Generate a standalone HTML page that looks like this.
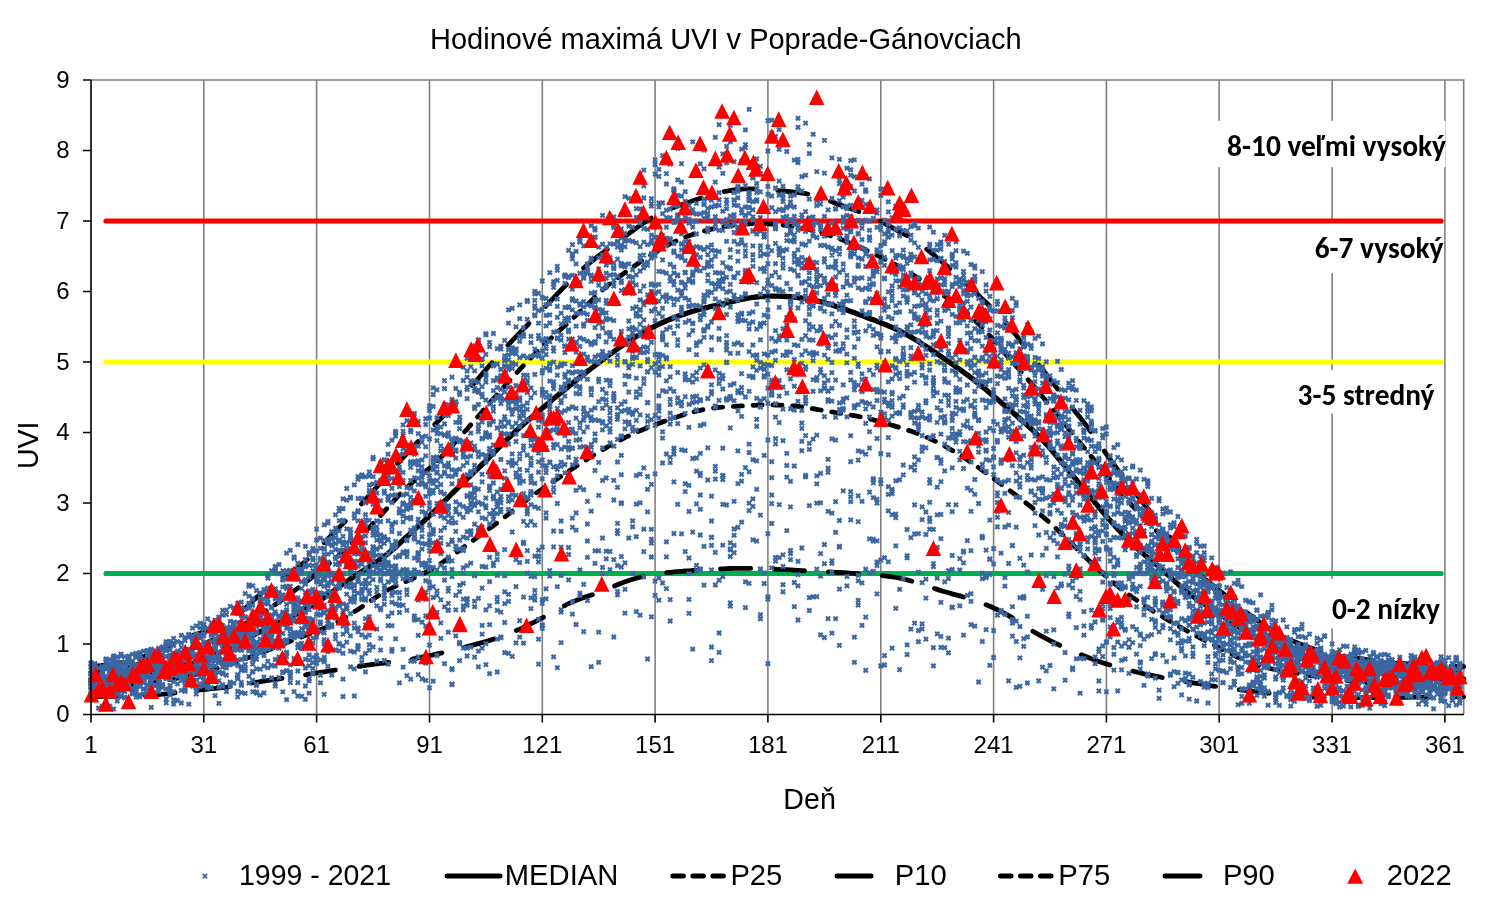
<!DOCTYPE html>
<html><head><meta charset="utf-8"><title>Hodinové maximá UVI v Poprade-Gánovciach</title>
<style>
html,body{margin:0;padding:0;background:#fff;}
svg{display:block;}
.a{font-family:"Liberation Sans",Arial,sans-serif;fill:#000;}
.c{font-family:Carlito,Calibri,"Liberation Sans",sans-serif;font-weight:bold;fill:#000;}
</style></head><body>
<svg width="1508" height="917" viewBox="0 0 1508 917">
<rect width="1508" height="917" fill="#fff"/>
<text class="a" x="725.8" y="49.2" font-size="29.0" text-anchor="middle">Hodinové maximá UVI v Poprade-Gánovciach</text>
<path d="M203.8 80V714M316.6 80V714M429.5 80V714M542.3 80V714M655.1 80V714M767.9 80V714M880.8 80V714M993.6 80V714M1106.4 80V714M1219.2 80V714M1332.1 80V714M1444.9 80V714M91 80H1463.7V714" stroke="#808080" stroke-width="1.6" fill="none"/>
<g fill="#fff"><rect x="1214" y="120.8" width="231.5" height="46.4"/><rect x="1305" y="219.2" width="139" height="53.8"/><rect x="1292" y="370" width="148" height="43.5"/><rect x="1322" y="579" width="120" height="49.4"/></g>
<g stroke-linecap="round" stroke-width="5.2" fill="none">
<path d="M106.0 221.0H1441.1" stroke="#ff0000"/>
<path d="M106.0 362.0H1441.1" stroke="#ffff00"/>
<path d="M106.0 573.5H1441.1" stroke="#00b050"/>
</g>
<g fill="none" stroke="#000" stroke-width="4.8" stroke-linecap="round" stroke-linejoin="round">
<path d="M91.0 696.9 94.8 696.8 98.5 696.7 102.3 696.6 106.0 696.5 109.8 696.4 113.6 696.3 117.3 696.2 121.1 696.1 124.8 696.0 128.6 695.9 132.4 695.8 136.1 695.7 139.9 695.5 143.7 695.4 147.4 695.2 151.2 695.0 154.9 694.8 158.7 694.5 162.5 694.2 166.2 693.9 170.0 693.5 173.7 693.1 177.5 692.7 181.3 692.2 185.0 691.8 188.8 691.3 192.5 690.8 196.3 690.4 200.1 689.9 203.8 689.5 207.6 689.1 211.3 688.7 215.1 688.3 218.9 687.9 222.6 687.5 226.4 687.1 230.2 686.6 233.9 686.0 237.7 685.5 241.4 684.9 245.2 684.2 249.0 683.6 252.7 682.9 256.5 682.3 260.2 681.7 264.0 681.1 267.8 680.5 271.5 679.9 275.3 679.4 279.0 678.8 282.8 678.3 286.6 677.7 290.3 677.1 294.1 676.6 297.8 676.0 301.6 675.4 305.4 674.8 309.1 674.2 312.9 673.6 316.6 673.0 320.4 672.4 324.2 671.8 327.9 671.2 331.7 670.6 335.5 670.0 339.2 669.4 343.0 668.8 346.7 668.2 350.5 667.6 354.3 667.1 358.0 666.5 361.8 666.0 365.5 665.4 369.3 664.9 373.1 664.4 376.8 663.9 380.6 663.4 384.3 663.0 388.1 662.5 391.9 662.1 395.6 661.6 399.4 661.1 403.1 660.6 406.9 660.0 410.7 659.4 414.4 658.7 418.2 658.0 422.0 657.2 425.7 656.4 429.5 655.6 433.2 654.8 437.0 653.9 440.8 653.1 444.5 652.3 448.3 651.4 452.0 650.5 455.8 649.6 459.6 648.6 463.3 647.6 467.1 646.6 470.8 645.6 474.6 644.6 478.4 643.6 482.1 642.6 485.9 641.5 489.6 640.4 493.4 639.2 497.2 638.0 500.9 636.7 504.7 635.3 508.5 633.8 512.2 632.3 516.0 630.7 519.7 629.1 523.5 627.3 527.3 625.6 531.0 623.7 534.8 621.8 538.5 619.9 542.3 617.9 546.1 615.9 549.8 613.8 553.6 611.7 557.3 609.6 561.1 607.5 564.9 605.5 568.6 603.6 572.4 601.9 576.1 600.4 579.9 599.0 583.7 597.6 587.4 596.4 591.2 595.1 595.0 593.8 598.7 592.5 602.5 591.0 606.2 589.5 610.0 587.9 613.8 586.3 617.5 584.7 621.3 583.2 625.0 581.8 628.8 580.5 632.6 579.3 636.3 578.2 640.1 577.2 643.8 576.3 647.6 575.4 651.4 574.7 655.1 574.1 658.9 573.6 662.6 573.1 666.4 572.7 670.2 572.3 673.9 571.9 677.7 571.6 681.5 571.3 685.2 571.0 689.0 570.8 692.7 570.5 696.5 570.3 700.3 570.0 704.0 569.8 707.8 569.6 711.5 569.4 715.3 569.1 719.1 568.9 722.8 568.8 726.6 568.6 730.3 568.5 734.1 568.4 737.9 568.3 741.6 568.3 745.4 568.3 749.1 568.4 752.9 568.4 756.7 568.5 760.4 568.6 764.2 568.7 767.9 568.9 771.7 569.0 775.5 569.2 779.2 569.4 783.0 569.5 786.8 569.7 790.5 569.9 794.3 570.1 798.0 570.3 801.8 570.6 805.6 570.8 809.3 571.0 813.1 571.2 816.8 571.4 820.6 571.6 824.4 571.7 828.1 571.9 831.9 572.1 835.6 572.3 839.4 572.5 843.2 572.7 846.9 572.9 850.7 573.2 854.4 573.4 858.2 573.6 862.0 573.9 865.7 574.2 869.5 574.5 873.3 574.8 877.0 575.1 880.8 575.5 884.5 575.9 888.3 576.4 892.1 576.9 895.8 577.5 899.6 578.2 903.3 579.0 907.1 579.9 910.9 581.0 914.6 582.1 918.4 583.3 922.1 584.5 925.9 585.8 929.7 587.0 933.4 588.2 937.2 589.4 940.9 590.6 944.7 591.7 948.5 592.8 952.2 593.9 956.0 594.9 959.8 595.9 963.5 597.0 967.3 598.1 971.0 599.3 974.8 600.5 978.6 601.8 982.3 603.2 986.1 604.7 989.8 606.3 993.6 608.0 997.4 609.7 1001.1 611.5 1004.9 613.5 1008.6 615.6 1012.4 617.9 1016.2 620.3 1019.9 622.9 1023.7 625.4 1027.4 627.9 1031.2 630.2 1035.0 632.5 1038.7 634.6 1042.5 636.7 1046.3 638.7 1050.0 640.6 1053.8 642.5 1057.5 644.3 1061.3 646.0 1065.1 647.8 1068.8 649.4 1072.6 651.1 1076.3 652.7 1080.1 654.2 1083.9 655.8 1087.6 657.3 1091.4 658.8 1095.1 660.1 1098.9 661.4 1102.7 662.7 1106.4 663.9 1110.2 665.1 1113.9 666.2 1117.7 667.2 1121.5 668.2 1125.2 669.2 1129.0 670.2 1132.7 671.1 1136.5 672.0 1140.3 672.9 1144.0 673.8 1147.8 674.6 1151.6 675.4 1155.3 676.2 1159.1 676.9 1162.8 677.6 1166.6 678.3 1170.4 679.0 1174.1 679.7 1177.9 680.3 1181.6 681.0 1185.4 681.6 1189.2 682.2 1192.9 682.8 1196.7 683.4 1200.4 684.0 1204.2 684.6 1208.0 685.2 1211.7 685.8 1215.5 686.4 1219.2 687.0 1223.0 687.6 1226.8 688.1 1230.5 688.6 1234.3 689.1 1238.1 689.6 1241.8 690.0 1245.6 690.4 1249.3 690.9 1253.1 691.3 1256.9 691.7 1260.6 692.2 1264.4 692.7 1268.1 693.1 1271.9 693.6 1275.7 694.0 1279.4 694.5 1283.2 694.9 1286.9 695.3 1290.7 695.6 1294.5 696.0 1298.2 696.3 1302.0 696.5 1305.7 696.7 1309.5 696.9 1313.3 697.1 1317.0 697.2 1320.8 697.4 1324.6 697.5 1328.3 697.5 1332.1 697.6 1335.8 697.6 1339.6 697.7 1343.4 697.7 1347.1 697.7 1350.9 697.7 1354.6 697.7 1358.4 697.6 1362.2 697.6 1365.9 697.6 1369.7 697.6 1373.4 697.5 1377.2 697.5 1381.0 697.5 1384.7 697.4 1388.5 697.4 1392.2 697.4 1396.0 697.3 1399.8 697.3 1403.5 697.3 1407.3 697.3 1411.1 697.2 1414.8 697.2 1418.6 697.2 1422.3 697.1 1426.1 697.1 1429.9 697.1 1433.6 697.0 1437.4 697.0 1441.1 697.0 1444.9 697.0 1448.7 696.9 1452.4 696.9 1456.2 696.9 1459.9 696.9 1463.7 696.9" stroke-dasharray="30.2 23.8"/>
<path d="M91.0 687.7 94.8 687.5 98.5 687.4 102.3 687.1 106.0 686.9 109.8 686.7 113.6 686.4 117.3 686.1 121.1 685.8 124.8 685.4 128.6 685.1 132.4 684.7 136.1 684.2 139.9 683.8 143.7 683.3 147.4 682.9 151.2 682.4 154.9 681.8 158.7 681.3 162.5 680.7 166.2 680.1 170.0 679.4 173.7 678.8 177.5 678.1 181.3 677.3 185.0 676.6 188.8 675.8 192.5 674.9 196.3 674.1 200.1 673.1 203.8 672.2 207.6 671.1 211.3 670.1 215.1 669.0 218.9 667.8 222.6 666.6 226.4 665.4 230.2 664.2 233.9 662.9 237.7 661.6 241.4 660.2 245.2 658.8 249.0 657.4 252.7 656.0 256.5 654.6 260.2 653.1 264.0 651.6 267.8 650.2 271.5 648.7 275.3 647.2 279.0 645.7 282.8 644.2 286.6 642.7 290.3 641.2 294.1 639.7 297.8 638.3 301.6 636.8 305.4 635.4 309.1 634.0 312.9 632.6 316.6 631.2 320.4 629.7 324.2 628.1 327.9 626.5 331.7 624.8 335.5 623.0 339.2 621.0 343.0 618.9 346.7 616.7 350.5 614.4 354.3 611.9 358.0 609.4 361.8 606.9 365.5 604.4 369.3 601.8 373.1 599.3 376.8 596.8 380.6 594.4 384.3 592.2 388.1 590.0 391.9 588.0 395.6 586.1 399.4 584.3 403.1 582.6 406.9 581.0 410.7 579.4 414.4 577.7 418.2 576.0 422.0 574.2 425.7 572.3 429.5 570.3 433.2 568.2 437.0 565.9 440.8 563.5 444.5 561.0 448.3 558.4 452.0 555.7 455.8 553.0 459.6 550.3 463.3 547.5 467.1 544.8 470.8 542.1 474.6 539.4 478.4 536.6 482.1 533.9 485.9 531.2 489.6 528.4 493.4 525.7 497.2 522.8 500.9 520.0 504.7 517.1 508.5 514.1 512.2 511.2 516.0 508.2 519.7 505.3 523.5 502.4 527.3 499.5 531.0 496.8 534.8 494.1 538.5 491.4 542.3 488.9 546.1 486.3 549.8 483.8 553.6 481.3 557.3 478.8 561.1 476.3 564.9 473.7 568.6 471.2 572.4 468.7 576.1 466.2 579.9 463.8 583.7 461.4 587.4 459.0 591.2 456.6 595.0 454.3 598.7 452.0 602.5 449.8 606.2 447.6 610.0 445.5 613.8 443.4 617.5 441.4 621.3 439.5 625.0 437.6 628.8 435.8 632.6 434.0 636.3 432.4 640.1 430.7 643.8 429.2 647.6 427.6 651.4 426.2 655.1 424.7 658.9 423.3 662.6 421.9 666.4 420.6 670.2 419.2 673.9 417.9 677.7 416.7 681.5 415.4 685.2 414.3 689.0 413.2 692.7 412.1 696.5 411.2 700.3 410.3 704.0 409.5 707.8 408.8 711.5 408.3 715.3 407.8 719.1 407.4 722.8 407.1 726.6 406.8 730.3 406.5 734.1 406.3 737.9 406.1 741.6 405.9 745.4 405.7 749.1 405.5 752.9 405.3 756.7 405.2 760.4 405.0 764.2 405.0 767.9 404.9 771.7 404.9 775.5 405.0 779.2 405.1 783.0 405.2 786.8 405.4 790.5 405.7 794.3 406.0 798.0 406.4 801.8 406.9 805.6 407.5 809.3 408.1 813.1 408.7 816.8 409.4 820.6 410.0 824.4 410.7 828.1 411.3 831.9 411.9 835.6 412.5 839.4 413.1 843.2 413.7 846.9 414.3 850.7 415.0 854.4 415.6 858.2 416.4 862.0 417.2 865.7 418.1 869.5 419.0 873.3 419.9 877.0 420.9 880.8 422.0 884.5 423.0 888.3 424.1 892.1 425.2 895.8 426.4 899.6 427.5 903.3 428.7 907.1 429.9 910.9 431.1 914.6 432.4 918.4 433.8 922.1 435.3 925.9 436.9 929.7 438.5 933.4 440.3 937.2 442.2 940.9 444.1 944.7 446.1 948.5 448.2 952.2 450.4 956.0 452.7 959.8 455.0 963.5 457.4 967.3 459.8 971.0 462.4 974.8 464.9 978.6 467.6 982.3 470.3 986.1 473.0 989.8 475.8 993.6 478.6 997.4 481.4 1001.1 484.2 1004.9 486.9 1008.6 489.7 1012.4 492.5 1016.2 495.4 1019.9 498.2 1023.7 501.1 1027.4 504.1 1031.2 507.0 1035.0 510.1 1038.7 513.2 1042.5 516.4 1046.3 519.6 1050.0 523.0 1053.8 526.4 1057.5 529.9 1061.3 533.5 1065.1 537.1 1068.8 540.8 1072.6 544.5 1076.3 548.2 1080.1 551.9 1083.9 555.6 1087.6 559.3 1091.4 562.9 1095.1 566.4 1098.9 570.0 1102.7 573.4 1106.4 576.7 1110.2 580.0 1113.9 583.2 1117.7 586.2 1121.5 589.2 1125.2 592.0 1129.0 594.8 1132.7 597.5 1136.5 600.1 1140.3 602.6 1144.0 605.1 1147.8 607.6 1151.6 610.0 1155.3 612.4 1159.1 614.7 1162.8 617.0 1166.6 619.3 1170.4 621.5 1174.1 623.7 1177.9 625.8 1181.6 627.9 1185.4 630.0 1189.2 632.1 1192.9 634.1 1196.7 636.1 1200.4 638.1 1204.2 640.1 1208.0 642.0 1211.7 643.9 1215.5 645.9 1219.2 647.8 1223.0 649.7 1226.8 651.6 1230.5 653.6 1234.3 655.5 1238.1 657.3 1241.8 659.1 1245.6 660.8 1249.3 662.3 1253.1 663.7 1256.9 664.9 1260.6 666.1 1264.4 667.1 1268.1 668.0 1271.9 668.9 1275.7 669.6 1279.4 670.4 1283.2 671.0 1286.9 671.7 1290.7 672.3 1294.5 672.9 1298.2 673.5 1302.0 674.1 1305.7 674.7 1309.5 675.3 1313.3 675.9 1317.0 676.5 1320.8 677.0 1324.6 677.6 1328.3 678.1 1332.1 678.7 1335.8 679.2 1339.6 679.7 1343.4 680.2 1347.1 680.6 1350.9 681.1 1354.6 681.5 1358.4 682.0 1362.2 682.4 1365.9 682.8 1369.7 683.1 1373.4 683.5 1377.2 683.8 1381.0 684.1 1384.7 684.5 1388.5 684.7 1392.2 685.0 1396.0 685.3 1399.8 685.5 1403.5 685.7 1407.3 685.9 1411.1 686.1 1414.8 686.3 1418.6 686.5 1422.3 686.7 1426.1 686.8 1429.9 686.9 1433.6 687.1 1437.4 687.2 1441.1 687.3 1444.9 687.4 1448.7 687.5 1452.4 687.5 1456.2 687.6 1459.9 687.7 1463.7 687.7" stroke-dasharray="9.2 10.6"/>
<path d="M91.0 679.2 94.8 679.1 98.5 678.8 102.3 678.6 106.0 678.3 109.8 678.0 113.6 677.7 117.3 677.4 121.1 677.0 124.8 676.6 128.6 676.1 132.4 675.7 136.1 675.2 139.9 674.7 143.7 674.1 147.4 673.5 151.2 672.9 154.9 672.2 158.7 671.6 162.5 670.8 166.2 670.1 170.0 669.3 173.7 668.5 177.5 667.6 181.3 666.6 185.0 665.6 188.8 664.5 192.5 663.4 196.3 662.1 200.1 660.8 203.8 659.4 207.6 657.9 211.3 656.3 215.1 654.6 218.9 652.8 222.6 651.0 226.4 649.1 230.2 647.2 233.9 645.3 237.7 643.3 241.4 641.4 245.2 639.4 249.0 637.4 252.7 635.5 256.5 633.6 260.2 631.7 264.0 629.8 267.8 628.0 271.5 626.2 275.3 624.4 279.0 622.6 282.8 620.8 286.6 618.9 290.3 617.1 294.1 615.1 297.8 613.2 301.6 611.2 305.4 609.1 309.1 607.0 312.9 604.8 316.6 602.4 320.4 600.0 324.2 597.5 327.9 595.0 331.7 592.3 335.5 589.6 339.2 586.9 343.0 584.2 346.7 581.6 350.5 579.0 354.3 576.4 358.0 574.0 361.8 571.6 365.5 569.2 369.3 566.8 373.1 564.3 376.8 561.8 380.6 559.2 384.3 556.4 388.1 553.5 391.9 550.3 395.6 547.0 399.4 543.6 403.1 540.0 406.9 536.5 410.7 533.1 414.4 529.6 418.2 526.3 422.0 522.9 425.7 519.4 429.5 515.9 433.2 512.3 437.0 508.6 440.8 504.9 444.5 501.1 448.3 497.3 452.0 493.5 455.8 489.8 459.6 486.2 463.3 482.5 467.1 478.9 470.8 475.3 474.6 471.7 478.4 468.1 482.1 464.5 485.9 460.8 489.6 457.0 493.4 453.2 497.2 449.3 500.9 445.5 504.7 441.7 508.5 438.0 512.2 434.5 516.0 431.0 519.7 427.6 523.5 424.2 527.3 420.9 531.0 417.7 534.8 414.5 538.5 411.3 542.3 408.2 546.1 405.1 549.8 402.0 553.6 398.8 557.3 395.7 561.1 392.6 564.9 389.6 568.6 386.5 572.4 383.4 576.1 380.4 579.9 377.4 583.7 374.4 587.4 371.4 591.2 368.5 595.0 365.6 598.7 362.7 602.5 359.8 606.2 357.0 610.0 354.3 613.8 351.6 617.5 348.9 621.3 346.3 625.0 343.7 628.8 341.2 632.6 338.8 636.3 336.5 640.1 334.2 643.8 332.0 647.6 329.9 651.4 327.9 655.1 326.0 658.9 324.2 662.6 322.5 666.4 320.8 670.2 319.2 673.9 317.7 677.7 316.3 681.5 315.0 685.2 313.7 689.0 312.5 692.7 311.3 696.5 310.2 700.3 309.2 704.0 308.2 707.8 307.3 711.5 306.3 715.3 305.5 719.1 304.6 722.8 303.7 726.6 302.8 730.3 301.9 734.1 301.1 737.9 300.2 741.6 299.4 745.4 298.6 749.1 298.0 752.9 297.4 756.7 297.0 760.4 296.7 764.2 296.5 767.9 296.3 771.7 296.2 775.5 296.2 779.2 296.2 783.0 296.3 786.8 296.5 790.5 296.7 794.3 297.1 798.0 297.5 801.8 298.0 805.6 298.6 809.3 299.3 813.1 300.1 816.8 300.9 820.6 301.8 824.4 302.8 828.1 303.9 831.9 305.0 835.6 306.2 839.4 307.5 843.2 308.8 846.9 310.1 850.7 311.4 854.4 312.8 858.2 314.2 862.0 315.6 865.7 317.0 869.5 318.4 873.3 319.8 877.0 321.2 880.8 322.7 884.5 324.2 888.3 325.8 892.1 327.4 895.8 329.1 899.6 330.9 903.3 332.9 907.1 334.9 910.9 337.0 914.6 339.2 918.4 341.5 922.1 343.9 925.9 346.3 929.7 348.8 933.4 351.3 937.2 353.8 940.9 356.4 944.7 359.0 948.5 361.5 952.2 364.1 956.0 366.8 959.8 369.4 963.5 372.1 967.3 374.9 971.0 377.7 974.8 380.6 978.6 383.6 982.3 386.6 986.1 389.7 989.8 392.9 993.6 396.1 997.4 399.3 1001.1 402.5 1004.9 405.8 1008.6 409.0 1012.4 412.2 1016.2 415.4 1019.9 418.7 1023.7 422.0 1027.4 425.3 1031.2 428.8 1035.0 432.4 1038.7 436.1 1042.5 440.0 1046.3 444.1 1050.0 448.3 1053.8 452.7 1057.5 457.2 1061.3 461.7 1065.1 466.2 1068.8 470.8 1072.6 475.3 1076.3 479.8 1080.1 484.4 1083.9 489.0 1087.6 493.5 1091.4 498.1 1095.1 502.7 1098.9 507.2 1102.7 511.7 1106.4 516.2 1110.2 520.5 1113.9 524.8 1117.7 528.9 1121.5 532.9 1125.2 536.8 1129.0 540.6 1132.7 544.3 1136.5 547.8 1140.3 551.1 1144.0 554.3 1147.8 557.5 1151.6 560.6 1155.3 563.7 1159.1 566.9 1162.8 570.2 1166.6 573.6 1170.4 577.1 1174.1 580.6 1177.9 584.0 1181.6 587.3 1185.4 590.5 1189.2 593.6 1192.9 596.4 1196.7 599.0 1200.4 601.6 1204.2 604.0 1208.0 606.4 1211.7 608.8 1215.5 611.3 1219.2 613.8 1223.0 616.3 1226.8 618.9 1230.5 621.4 1234.3 624.0 1238.1 626.5 1241.8 628.9 1245.6 631.4 1249.3 633.7 1253.1 636.0 1256.9 638.2 1260.6 640.3 1264.4 642.3 1268.1 644.2 1271.9 646.0 1275.7 647.7 1279.4 649.3 1283.2 650.9 1286.9 652.3 1290.7 653.7 1294.5 655.0 1298.2 656.2 1302.0 657.4 1305.7 658.5 1309.5 659.5 1313.3 660.5 1317.0 661.5 1320.8 662.4 1324.6 663.3 1328.3 664.1 1332.1 664.9 1335.8 665.7 1339.6 666.4 1343.4 667.1 1347.1 667.8 1350.9 668.5 1354.6 669.1 1358.4 669.7 1362.2 670.3 1365.9 670.8 1369.7 671.3 1373.4 671.9 1377.2 672.4 1381.0 672.8 1384.7 673.3 1388.5 673.8 1392.2 674.2 1396.0 674.6 1399.8 675.0 1403.5 675.4 1407.3 675.8 1411.1 676.1 1414.8 676.4 1418.6 676.8 1422.3 677.1 1426.1 677.3 1429.9 677.6 1433.6 677.9 1437.4 678.1 1441.1 678.3 1444.9 678.5 1448.7 678.7 1452.4 678.8 1456.2 679.0 1459.9 679.1 1463.7 679.2" stroke-width="5.3"/>
<path d="M91.0 672.2 94.8 671.8 98.5 671.4 102.3 670.9 106.0 670.4 109.8 669.9 113.6 669.3 117.3 668.7 121.1 668.0 124.8 667.3 128.6 666.5 132.4 665.7 136.1 664.9 139.9 664.0 143.7 663.1 147.4 662.2 151.2 661.2 154.9 660.2 158.7 659.2 162.5 658.1 166.2 657.0 170.0 655.9 173.7 654.8 177.5 653.6 181.3 652.3 185.0 651.1 188.8 649.7 192.5 648.4 196.3 647.0 200.1 645.5 203.8 644.0 207.6 642.4 211.3 640.8 215.1 639.1 218.9 637.4 222.6 635.6 226.4 633.7 230.2 631.8 233.9 629.8 237.7 627.8 241.4 625.7 245.2 623.6 249.0 621.4 252.7 619.2 256.5 616.9 260.2 614.5 264.0 612.1 267.8 609.6 271.5 607.1 275.3 604.5 279.0 601.9 282.8 599.2 286.6 596.5 290.3 593.7 294.1 590.9 297.8 588.1 301.6 585.3 305.4 582.4 309.1 579.5 312.9 576.5 316.6 573.6 320.4 570.6 324.2 567.5 327.9 564.5 331.7 561.3 335.5 558.2 339.2 555.0 343.0 551.7 346.7 548.4 350.5 545.0 354.3 541.6 358.0 538.1 361.8 534.6 365.5 531.0 369.3 527.4 373.1 523.6 376.8 519.6 380.6 515.5 384.3 511.4 388.1 507.2 391.9 503.0 395.6 498.9 399.4 494.9 403.1 491.0 406.9 487.4 410.7 483.9 414.4 480.6 418.2 477.5 422.0 474.4 425.7 471.3 429.5 468.1 433.2 464.7 437.0 461.1 440.8 457.4 444.5 453.6 448.3 449.7 452.0 445.7 455.8 441.6 459.6 437.4 463.3 433.2 467.1 429.0 470.8 424.7 474.6 420.4 478.4 416.1 482.1 411.8 485.9 407.4 489.6 403.1 493.4 398.8 497.2 394.5 500.9 390.2 504.7 386.0 508.5 381.8 512.2 377.7 516.0 373.6 519.7 369.5 523.5 365.5 527.3 361.6 531.0 357.7 534.8 353.9 538.5 350.1 542.3 346.4 546.1 342.8 549.8 339.3 553.6 335.8 557.3 332.4 561.1 329.0 564.9 325.6 568.6 322.2 572.4 318.8 576.1 315.3 579.9 311.8 583.7 308.2 587.4 304.6 591.2 300.9 595.0 297.2 598.7 293.6 602.5 290.1 606.2 286.8 610.0 283.6 613.8 280.7 617.5 277.9 621.3 275.2 625.0 272.5 628.8 269.9 632.6 267.3 636.3 264.7 640.1 262.1 643.8 259.6 647.6 257.1 651.4 254.7 655.1 252.3 658.9 250.1 662.6 247.9 666.4 245.8 670.2 243.9 673.9 242.0 677.7 240.3 681.5 238.7 685.2 237.1 689.0 235.7 692.7 234.4 696.5 233.2 700.3 232.1 704.0 231.0 707.8 230.1 711.5 229.2 715.3 228.4 719.1 227.6 722.8 226.9 726.6 226.2 730.3 225.7 734.1 225.1 737.9 224.7 741.6 224.3 745.4 224.0 749.1 223.8 752.9 223.7 756.7 223.6 760.4 223.6 764.2 223.7 767.9 223.9 771.7 224.1 775.5 224.4 779.2 224.7 783.0 225.1 786.8 225.6 790.5 226.1 794.3 226.7 798.0 227.4 801.8 228.1 805.6 228.9 809.3 229.7 813.1 230.6 816.8 231.6 820.6 232.7 824.4 233.8 828.1 234.9 831.9 236.1 835.6 237.4 839.4 238.8 843.2 240.2 846.9 241.7 850.7 243.3 854.4 244.9 858.2 246.5 862.0 248.2 865.7 250.0 869.5 251.7 873.3 253.5 877.0 255.4 880.8 257.2 884.5 259.1 888.3 261.0 892.1 262.9 895.8 264.9 899.6 266.9 903.3 269.0 907.1 271.2 910.9 273.5 914.6 275.8 918.4 278.3 922.1 280.8 925.9 283.4 929.7 286.0 933.4 288.6 937.2 291.1 940.9 293.7 944.7 296.4 948.5 299.0 952.2 301.8 956.0 304.6 959.8 307.5 963.5 310.5 967.3 313.6 971.0 316.9 974.8 320.3 978.6 323.9 982.3 327.7 986.1 331.7 989.8 335.9 993.6 340.2 997.4 344.6 1001.1 349.0 1004.9 353.4 1008.6 357.7 1012.4 361.9 1016.2 366.2 1019.9 370.4 1023.7 374.7 1027.4 379.0 1031.2 383.3 1035.0 387.7 1038.7 392.2 1042.5 396.7 1046.3 401.3 1050.0 405.9 1053.8 410.5 1057.5 415.2 1061.3 419.8 1065.1 424.5 1068.8 429.1 1072.6 433.8 1076.3 438.4 1080.1 442.9 1083.9 447.5 1087.6 452.0 1091.4 456.6 1095.1 461.1 1098.9 465.7 1102.7 470.3 1106.4 474.9 1110.2 479.6 1113.9 484.2 1117.7 488.7 1121.5 493.2 1125.2 497.6 1129.0 502.0 1132.7 506.2 1136.5 510.3 1140.3 514.4 1144.0 518.4 1147.8 522.3 1151.6 526.1 1155.3 529.9 1159.1 533.6 1162.8 537.3 1166.6 541.0 1170.4 544.7 1174.1 548.4 1177.9 552.1 1181.6 555.8 1185.4 559.6 1189.2 563.4 1192.9 567.2 1196.7 571.1 1200.4 575.0 1204.2 578.9 1208.0 582.8 1211.7 586.6 1215.5 590.4 1219.2 594.2 1223.0 597.9 1226.8 601.6 1230.5 605.2 1234.3 608.7 1238.1 612.1 1241.8 615.4 1245.6 618.6 1249.3 621.6 1253.1 624.6 1256.9 627.5 1260.6 630.2 1264.4 632.8 1268.1 635.3 1271.9 637.6 1275.7 639.9 1279.4 642.0 1283.2 643.9 1286.9 645.7 1290.7 647.4 1294.5 649.0 1298.2 650.4 1302.0 651.7 1305.7 652.9 1309.5 654.1 1313.3 655.1 1317.0 656.1 1320.8 656.9 1324.6 657.8 1328.3 658.5 1332.1 659.2 1335.8 659.9 1339.6 660.5 1343.4 661.1 1347.1 661.7 1350.9 662.2 1354.6 662.8 1358.4 663.3 1362.2 663.8 1365.9 664.3 1369.7 664.8 1373.4 665.3 1377.2 665.8 1381.0 666.2 1384.7 666.6 1388.5 667.0 1392.2 667.4 1396.0 667.8 1399.8 668.2 1403.5 668.6 1407.3 668.9 1411.1 669.2 1414.8 669.5 1418.6 669.8 1422.3 670.1 1426.1 670.4 1429.9 670.6 1433.6 670.9 1437.4 671.1 1441.1 671.3 1444.9 671.5 1448.7 671.7 1452.4 671.8 1456.2 672.0 1459.9 672.1 1463.7 672.2" stroke-dasharray="9.2 10.6"/>
<path d="M91.0 666.6 94.8 666.3 98.5 665.9 102.3 665.5 106.0 665.1 109.8 664.6 113.6 664.0 117.3 663.4 121.1 662.7 124.8 661.9 128.6 661.0 132.4 660.1 136.1 659.0 139.9 657.9 143.7 656.7 147.4 655.3 151.2 653.9 154.9 652.3 158.7 650.6 162.5 648.8 166.2 647.0 170.0 645.1 173.7 643.2 177.5 641.4 181.3 639.7 185.0 638.1 188.8 636.7 192.5 635.4 196.3 634.2 200.1 633.0 203.8 631.9 207.6 630.7 211.3 629.4 215.1 628.1 218.9 626.6 222.6 624.9 226.4 622.9 230.2 620.7 233.9 618.2 237.7 615.2 241.4 611.9 245.2 608.3 249.0 604.6 252.7 601.0 256.5 597.6 260.2 594.3 264.0 591.4 267.8 588.6 271.5 586.1 275.3 583.6 279.0 581.2 282.8 578.7 286.6 576.1 290.3 573.4 294.1 570.5 297.8 567.6 301.6 564.5 305.4 561.2 309.1 557.8 312.9 554.2 316.6 550.4 320.4 546.6 324.2 542.7 327.9 538.9 331.7 535.1 335.5 531.3 339.2 527.4 343.0 523.6 346.7 519.7 350.5 515.7 354.3 511.7 358.0 507.7 361.8 503.6 365.5 499.4 369.3 495.3 373.1 491.1 376.8 486.9 380.6 482.7 384.3 478.4 388.1 474.2 391.9 470.0 395.6 465.8 399.4 461.7 403.1 457.5 406.9 453.4 410.7 449.4 414.4 445.3 418.2 441.4 422.0 437.4 425.7 433.6 429.5 429.8 433.2 426.0 437.0 422.3 440.8 418.6 444.5 414.8 448.3 411.1 452.0 407.2 455.8 403.4 459.6 399.4 463.3 395.3 467.1 391.2 470.8 386.9 474.6 382.6 478.4 378.3 482.1 374.0 485.9 369.7 489.6 365.4 493.4 361.2 497.2 357.0 500.9 352.8 504.7 348.7 508.5 344.6 512.2 340.6 516.0 336.7 519.7 332.9 523.5 329.0 527.3 325.2 531.0 321.4 534.8 317.5 538.5 313.6 542.3 309.7 546.1 305.8 549.8 301.8 553.6 297.8 557.3 293.9 561.1 290.0 564.9 286.1 568.6 282.3 572.4 278.5 576.1 274.9 579.9 271.4 583.7 268.0 587.4 264.7 591.2 261.6 595.0 258.6 598.7 255.7 602.5 252.9 606.2 250.1 610.0 247.4 613.8 244.6 617.5 241.9 621.3 239.1 625.0 236.3 628.8 233.6 632.6 230.8 636.3 228.1 640.1 225.4 643.8 222.8 647.6 220.4 651.4 218.0 655.1 215.8 658.9 213.7 662.6 211.9 666.4 210.2 670.2 208.8 673.9 207.4 677.7 206.1 681.5 204.8 685.2 203.5 689.0 202.2 692.7 200.8 696.5 199.5 700.3 198.2 704.0 196.9 707.8 195.7 711.5 194.6 715.3 193.6 719.1 192.7 722.8 191.9 726.6 191.2 730.3 190.5 734.1 190.0 737.9 189.5 741.6 189.2 745.4 188.9 749.1 188.8 752.9 188.9 756.7 189.0 760.4 189.2 764.2 189.4 767.9 189.7 771.7 190.0 775.5 190.3 779.2 190.7 783.0 191.0 786.8 191.3 790.5 191.7 794.3 192.1 798.0 192.5 801.8 193.0 805.6 193.7 809.3 194.4 813.1 195.3 816.8 196.4 820.6 197.6 824.4 198.9 828.1 200.4 831.9 201.8 835.6 203.3 839.4 204.8 843.2 206.1 846.9 207.5 850.7 208.7 854.4 210.0 858.2 211.3 862.0 212.7 865.7 214.2 869.5 215.8 873.3 217.5 877.0 219.4 880.8 221.4 884.5 223.5 888.3 225.6 892.1 227.6 895.8 229.6 899.6 231.6 903.3 233.6 907.1 235.7 910.9 238.0 914.6 240.4 918.4 243.0 922.1 245.8 925.9 248.6 929.7 251.6 933.4 254.7 937.2 257.8 940.9 261.0 944.7 264.2 948.5 267.4 952.2 270.7 956.0 274.1 959.8 277.6 963.5 281.1 967.3 284.7 971.0 288.4 974.8 292.0 978.6 295.6 982.3 299.1 986.1 302.6 989.8 306.1 993.6 309.8 997.4 313.5 1001.1 317.5 1004.9 321.7 1008.6 326.1 1012.4 330.6 1016.2 335.3 1019.9 340.2 1023.7 345.1 1027.4 350.0 1031.2 355.0 1035.0 359.9 1038.7 364.7 1042.5 369.5 1046.3 374.3 1050.0 379.1 1053.8 384.0 1057.5 388.9 1061.3 393.8 1065.1 398.7 1068.8 403.5 1072.6 408.2 1076.3 412.9 1080.1 417.6 1083.9 422.4 1087.6 427.5 1091.4 432.7 1095.1 438.0 1098.9 443.4 1102.7 448.8 1106.4 454.1 1110.2 459.3 1113.9 464.5 1117.7 469.6 1121.5 474.7 1125.2 479.7 1129.0 484.6 1132.7 489.5 1136.5 494.4 1140.3 499.2 1144.0 504.0 1147.8 508.8 1151.6 513.5 1155.3 518.3 1159.1 523.0 1162.8 527.8 1166.6 532.7 1170.4 537.8 1174.1 543.1 1177.9 548.4 1181.6 553.7 1185.4 558.8 1189.2 563.6 1192.9 568.0 1196.7 571.9 1200.4 575.4 1204.2 578.5 1208.0 581.5 1211.7 584.4 1215.5 587.4 1219.2 590.4 1223.0 593.4 1226.8 596.5 1230.5 599.6 1234.3 602.6 1238.1 605.7 1241.8 608.7 1245.6 611.6 1249.3 614.5 1253.1 617.3 1256.9 620.1 1260.6 622.7 1264.4 625.3 1268.1 627.7 1271.9 630.0 1275.7 632.2 1279.4 634.3 1283.2 636.3 1286.9 638.2 1290.7 640.0 1294.5 641.7 1298.2 643.3 1302.0 644.8 1305.7 646.2 1309.5 647.5 1313.3 648.7 1317.0 649.9 1320.8 651.0 1324.6 652.0 1328.3 652.9 1332.1 653.8 1335.8 654.6 1339.6 655.4 1343.4 656.1 1347.1 656.8 1350.9 657.4 1354.6 658.0 1358.4 658.5 1362.2 659.0 1365.9 659.5 1369.7 660.0 1373.4 660.5 1377.2 660.9 1381.0 661.3 1384.7 661.8 1388.5 662.1 1392.2 662.5 1396.0 662.9 1399.8 663.2 1403.5 663.5 1407.3 663.8 1411.1 664.1 1414.8 664.4 1418.6 664.6 1422.3 664.9 1426.1 665.1 1429.9 665.3 1433.6 665.5 1437.4 665.7 1441.1 665.8 1444.9 666.0 1448.7 666.1 1452.4 666.3 1456.2 666.4 1459.9 666.5 1463.7 666.6" stroke-dasharray="30.2 23.8"/>
</g>
<defs><marker id="s" markerUnits="userSpaceOnUse" markerWidth="10" markerHeight="10" refX="5" refY="5" overflow="visible"><path d="M2.9 2.9L7.1 7.1M7.1 2.9L2.9 7.1" stroke="#3b67a2" stroke-width="2.2"/></marker></defs>
<path d="M91 662.8m0 0.7m0 3.6m0 3.3m0 2.2m0 0.9m0 0.6m0 0.1m0 0.1m0 1.8m0 4.3m0 1.5m0 1.6m0 0.2m0 0.2m0 0.3m0 2m0 0.7m0 0.2m0 1.4m0 1.6m0 3.7m0 0.9m3.8-31.1m0 0.5m0 0.3m0 1.8m0 1.5m0 0.2m0 1.5m0 3.1m0 1.6m0 1.7m0 0.1m0 1.4m0 1.4m0 0.8m0 0.4m0 3.4m0 0.3m0 1.7m0 0.2m0 0.3m0 2.1m0 3.8m0 2.3m3.7-25.8m0 6.5m0 0.4m0 3.3m0 0.4m0 0.1m0 0.1m0 1m0 2.6m0 1.6m0 0.2m0 0.4m0 0.1m0 0.6m0 0.1m0 0.1m0 0.2m0 0.9m0 0.2m0 1.8m0 1.6m0 4.9m0 12.9m3.8-41.8m0 0.5m0 3.7m0 0.3m0 1.9m0 1.4m0 0.5m0 0m0 0.2m0 2.1m0 3.2m0 3.5m0 1.9m0 0.1m0 1.1m0 0.1m0 1.5m0 0m0 0.1m0 0.2m0 5.4m0 0.3m0 11.7m3.7-47.1m0 0.7m0 1.9m0 4.1m0 0.5m0 3.2m0 6.8m0 1.3m0 0.8m0 1.2m0 1m0 0.9m0 0.4m0 1m0 1.6m0 0m0 0.2m0 1.1m0 1.1m0 2.1m0 5.1m0 1.7m0 4.1m3.8-40.3m0 4.1m0 1.1m0 0.7m0 3.3m0 0.5m0 0.8m0 1.2m0 0.9m0 0.2m0 4.6m0 1m0 0.1m0 1.8m0 1.4m0 0.9m0 0m0 0.5m0 1.8m0 4.3m0 2.9m0 2.1m0 12.4m3.8-50.3m0 0.8m0 1m0 3.4m0 4.1m0 0.1m0 0.1m0 3.1m0 0.4m0 5.1m0 2.1m0 1.8m0 1.6m0 2.5m0 1.7m0 1m0 3.8m0 0.2m0 0.1m0 4.5m0 2.4m0 0.6m0 12.8m3.7-52.2m0 4.5m0 2.6m0 0.2m0 0.1m0 0m0 4.2m0 0.8m0 0.3m0 0.5m0 0.2m0 2.8m0 2.5m0 0.7m0 0.4m0 5.9m0 5m0 0.1m0 0.7m0 1.2m0 2.1m0 3.1m0 6.3m3.8-46.9m0 2m0 7.2m0 4.2m0 0.2m0 2.1m0 2.5m0 2.5m0 1.7m0 0.6m0 1.2m0 0.5m0 0.3m0 1.3m0 0.9m0 1.2m0 2.6m0 0.2m0 0.3m0 4m0 1.5m0 5m0 0.1m3.7-39.5m0 5m0 1.4m0 0.9m0 1.1m0 4.1m0 1.4m0 0.5m0 1.2m0 3.4m0 0.3m0 0.9m0 1.1m0 0.3m0 0.8m0 0.8m0 0.1m0 0.8m0 4m0 2.6m0 4.2m0 5.5m0 1.1m3.8-42m0 1.5m0 3.1m0 1.6m0 0.7m0 0.6m0 0.3m0 4.8m0 0.4m0 0.8m0 0.4m0 1.4m0 2.5m0 1.9m0 0.6m0 0.8m0 3.2m0 1.5m0 2m0 0.3m0 1.2m0 2.7m0 16.1m3.8-50.3m0 6.7m0 2m0 0.5m0 1.1m0 0.3m0 0.7m0 0.2m0 4.5m0 3.1m0 1.1m0 1.3m0 0.6m0 0.1m0 2.8m0 1m0 0.8m0 7m0 1.9m0 0.7m0 1.4m0 1.3m0 0.5m3.7-40.6m0 1.8m0 0.6m0 0.7m0 0.9m0 7.8m0 0.1m0 2.2m0 3.3m0 1.7m0 2.6m0 1.9m0 0.1m0 3.1m0 1.7m0 0.5m0 1.5m0 1m0 1.7m0 2.4m0 1.8m0 3.4m0 3m3.8-44.6m0 2.8m0 2.6m0 0.1m0 0.1m0 1.3m0 2.5m0 3.5m0 1.1m0 1.9m0 4.9m0 1m0 2.2m0 0.7m0 0.6m0 0.1m0 0.4m0 0.6m0 0.6m0 3.9m0 3.1m0 8.1m0 2.3m3.8-45.8m0 8.7m0 1.3m0 2m0 1.6m0 0.6m0 6.5m0 1.3m0 0.7m0 1.2m0 0.7m0 0.6m0 0.9m0 2.3m0 0.4m0 0.4m0 0.6m0 0.9m0 0.1m0 1m0 5.9m0 0.3m0 4.6m3.7-43.4m0 4.2m0 0.8m0 4.5m0 1.2m0 2m0 0.1m0 0.2m0 2.7m0 7m0 0.5m0 1.8m0 1.8m0 0.3m0 0.3m0 7.2m0 0m0 0.4m0 3.8m0 4.5m0 1.1m0 0.2m0 0.1m3.8-45.8m0 0.7m0 1.5m0 3.3m0 3.6m0 1.7m0 3.7m0 0.4m0 0.7m0 0.6m0 5.2m0 5.5m0 0.1m0 1.6m0 1.4m0 0.2m0 2.2m0 2.7m0 2m0 3.3m0 3.4m0 0.2m0 14.1m3.7-56.7m0 1.5m0 5m0 3.5m0 0.1m0 0.4m0 3.2m0 2.4m0 1.4m0 0.2m0 0.4m0 4.1m0 0.1m0 0.1m0 0.9m0 0.5m0 0.6m0 1.8m0 1.5m0 6.6m0 0m0 1.1m0 6.4m3.8-44.2m0 1.2m0 3.5m0 0.4m0 0.1m0 2.2m0 5.2m0 2.1m0 2.3m0 2.5m0 3m0 1.6m0 2.3m0 3m0 1.8m0 0m0 0.3m0 1.2m0 3.1m0 0.5m0 1.5m0 2m0 3.5m3.8-44.6m0 3.2m0 4m0 2.3m0 2.6m0 0.1m0 0.9m0 2.6m0 1.1m0 2m0 0.2m0 5.4m0 1.4m0 0m0 0.8m0 0.8m0 0.1m0 0.3m0 0.5m0 0m0 9.2m0 1.3m0 1.6m3.7-45.6m0 1.9m0 0.2m0 0.4m0 2.1m0 3.5m0 0.9m0 5.9m0 8.7m0 0.4m0 1.7m0 2m0 0.2m0 0.1m0 1.1m0 2.2m0 3.5m0 0.8m0 0.8m0 0.6m0 10.2m0 10m0 4m3.8-61.6m0 3.4m0 5.3m0 6m0 0.3m0 1.7m0 0.6m0 1.5m0 1.5m0 2.2m0 6.1m0 1.4m0 3m0 0.8m0 1.3m0 0.3m0 0.2m0 2.5m0 6.1m0 3.3m0 2.5m0 0.6m0 2.9m3.7-56.4m0 4.7m0 0m0 2.4m0 7.9m0 3.2m0 3m0 1.1m0 1.6m0 1.5m0 0.3m0 0.9m0 3.9m0 0.6m0 1.4m0 0.7m0 0.1m0 0.4m0 3.3m0 6.3m0 10m0 8.3m0 4m3.8-62.4m0 9.6m0 2.6m0 0.4m0 2.8m0 1.6m0 0.6m0 0.3m0 1.4m0 0.9m0 5.2m0 1.8m0 0.3m0 1m0 0.5m0 1.1m0 0.3m0 1.5m0 1.1m0 1.4m0 0.3m0 7.6m0 16.6m3.8-65.2m0 7.5m0 4.6m0 4.7m0 0.6m0 0.1m0 1.2m0 5.5m0 0.9m0 1.5m0 0.5m0 0.8m0 4.9m0 1.1m0 2.3m0 1.7m0 0.3m0 0.9m0 0.6m0 1.9m0 3.8m0 9.7m0 12.6m3.7-65.5m0 3m0 9.8m0 1.3m0 0.2m0 9.1m0 0m0 0m0 7.1m0 0.1m0 4m0 0.9m0 0.9m0 0.8m0 0.6m0 0.7m0 0.2m0 3m0 2.1m0 4.2m0 4.5m0 0.9m0 0.5m3.8-56.9m0 0.5m0 2.2m0 12.1m0 1m0 4.2m0 2.2m0 0.4m0 1m0 1.2m0 0.8m0 0m0 0.5m0 2.1m0 2.7m0 6m0 0.5m0 0.4m0 7.1m0 1.2m0 3m0 0.6m0 20m3.7-76.1m0 7.8m0 2.9m0 2.3m0 0.4m0 5.3m0 4.2m0 4.1m0 0.1m0 0.9m0 1.5m0 8.7m0 0.8m0 1.9m0 0.3m0 1m0 1.8m0 0.7m0 0.5m0 1.5m0 8.4m0 0m0 3.1m3.8-60.5m0 8.3m0 0.1m0 0.5m0 12m0 7.8m0 1.4m0 1.5m0 1m0 1.4m0 0.1m0 3.5m0 0.6m0 0.1m0 3m0 2.4m0 1m0 2.6m0 6.7m0 6.7m0 1.8m0 2.9m0 2.9m3.8-71m0 4.6m0 7.2m0 2.4m0 0.8m0 6.7m0 7.6m0 0.5m0 0m0 2.5m0 1.7m0 2.2m0 2.5m0 0.4m0 4m0 1.2m0 0.3m0 0.4m0 2.3m0 3.1m0 3.9m0 6.6m0 2.5m3.7-62.1m0 0.4m0 3.8m0 0.3m0 4.7m0 2.1m0 6.5m0 2.8m0 4.4m0 0.5m0 1m0 1.9m0 0.4m0 3.1m0 0.5m0 2.8m0 3.3m0 6.6m0 1.3m0 5m0 4.4m0 0.4m0 4.9m3.8-66.7m0 9.3m0 15m0 0m0 0.1m0 4.7m0 1.3m0 7.4m0 1.9m0 0.6m0 1.8m0 2.4m0 1.8m0 3.2m0 0.3m0 0.9m0 0.9m0 0.4m0 13.7m0 0.3m0 1.5m0 1.2m0 0.4m3.7-65m0 3.7m0 2.6m0 0.3m0 5.2m0 0.8m0 6m0 0.9m0 6.7m0 1m0 0.2m0 6m0 1.1m0 0.4m0 2.7m0 0.7m0 4.2m0 5.2m0 3.2m0 0.6m0 3.9m0 2.2m0 7.2m3.8-67.5m0 2.5m0 1.2m0 7.9m0 0.6m0 2m0 4.5m0 0.8m0 1.9m0 2.5m0 3.8m0 0.1m0 1m0 0.5m0 0.8m0 5.7m0 3.7m0 1.4m0 4.8m0 5.3m0 3.6m0 1.2m0 19.7m3.8-78.7m0 1.4m0 7.2m0 1.4m0 9.3m0 0.5m0 2.3m0 1m0 1.9m0 1.7m0 8.4m0 1m0 4.1m0 0.4m0 2.3m0 0.6m0 1.1m0 0.7m0 0.6m0 9.5m0 8.4m0 6.1m0 16.4m3.7-93m0 4.7m0 10.6m0 3.6m0 5m0 2.2m0 2.7m0 1.1m0 0.8m0 0.5m0 1m0 3.4m0 2.4m0 10.9m0 3.3m0 0.9m0 0m0 3.6m0 5.9m0 0.6m0 0.2m0 10.9m0 1.7m3.8-76.2m0 4.5m0 13.1m0 2.7m0 0.3m0 4.2m0 2.2m0 4.3m0 1.2m0 0.3m0 1.8m0 9.1m0 0.4m0 1.7m0 0.8m0 0.2m0 4.4m0 0.1m0 1.3m0 2.1m0 3.1m0 7.2m0 16.5m3.8-85.2m0 15m0 5.2m0 2.9m0 2.4m0 0.2m0 3.1m0 1.5m0 0.7m0 0.9m0 5.8m0 0.3m0 7.1m0 1.8m0 0.4m0 5.3m0 2.5m0 2.4m0 0.8m0 17.4m0 1.4m0 2.2m0 0.2m3.7-77.9m0 14.1m0 2.6m0 1.1m0 3.2m0 1.9m0 0.2m0 0.7m0 0.8m0 5.1m0 2m0 2.1m0 0.1m0 2m0 1.3m0 0.5m0 2.3m0 2.3m0 6.3m0 1.8m0 2.5m0 2.4m0 19.9m3.8-79.7m0 5.6m0 4.8m0 8.4m0 8.3m0 3.3m0 2.9m0 1.1m0 0.4m0 1.5m0 5.7m0 0.1m0 0.6m0 3.5m0 0.1m0 10.2m0 5.5m0 9.2m0 0.1m0 3m0 0.9m0 12.8m0 5.4m3.7-94.7m0 5.3m0 8.1m0 12.1m0 2m0 1.4m0 0.5m0 2.8m0 2.8m0 1.7m0 2.6m0 3.8m0 2.8m0 1.3m0 1m0 9.1m0 7.2m0 3m0 0.7m0 12m0 2.4m0 0.6m0 7.2m3.8-99m0 15.5m0 7.7m0 0.7m0 8.3m0 4.8m0 0.6m0 2.3m0 0.3m0 1.8m0 2.5m0 2m0 3.8m0 0.8m0 2.1m0 1.1m0 8.8m0 1.3m0 0.4m0 6.2m0 3.9m0 2.2m0 22.7m3.8-108.5m0 1.4m0 9.8m0 7.3m0 0.6m0 3.8m0 0.2m0 11.6m0 2.3m0 1.8m0 1.3m0 1.5m0 3.7m0 1.2m0 1.5m0 3.4m0 1.1m0 1.1m0 0.1m0 11.4m0 0.9m0 25.4m0 6.9m3.7-97.6m0 12.9m0 1.1m0 5.7m0 11.9m0 2.1m0 11.6m0 3.8m0 4.3m0 2.1m0 2.5m0 2.7m0 2.4m0 0m0 3.7m0 0.7m0 4.8m0 2.2m0 4.1m0 7.2m0 0.7m0 8.2m0 11.4m3.8-101.2m0 21.7m0 3.1m0 5m0 1.8m0 4.7m0 4.9m0 1.4m0 0.2m0 8.8m0 0.5m0 0.3m0 0.5m0 3.6m0 2.3m0 4.1m0 3.2m0 2.7m0 9.5m0 15.5m0 1.2m0 6.5m0 1.3m3.7-100.3m0 5.5m0 2.7m0 1.5m0 8.7m0 1.2m0 1.8m0 2.3m0 3.8m0 0.9m0 0.7m0 0.9m0 2.1m0 14.1m0 4.4m0 2m0 1.1m0 1m0 0.2m0 2.3m0 2.6m0 16.4m0 25.9m3.8-105.6m0 3.4m0 6.2m0 4.6m0 10.7m0 5.7m0 1.4m0 0.4m0 5.2m0 1.7m0 2m0 2.4m0 0.7m0 2.5m0 3.5m0 0m0 5.7m0 2.5m0 2.5m0 5.1m0 10.5m0 10.9m0 15.9m3.8-117.6m0 2.8m0 10m0 0.5m0 10.6m0 3.8m0 0.8m0 14.5m0 1.5m0 7.7m0 1.6m0 1.4m0 1.4m0 1m0 2.2m0 0.8m0 3.6m0 4.4m0 1.4m0 0.4m0 3.4m0 12.1m0 6.5m3.7-97.1m0 17.5m0 0.3m0 3.3m0 14.9m0 1.2m0 7m0 2.4m0 2m0 1.6m0 4.9m0 8.1m0 1.4m0 2m0 3.4m0 0.1m0 1.4m0 2m0 3m0 0.5m0 17.7m0 0.1m0 12.5m3.8-111.7m0 0.8m0 3.4m0 1.7m0 16.5m0 2.7m0 6.6m0 0.7m0 13.3m0 1.9m0 7.9m0 1.7m0 1m0 4.8m0 1.1m0 1.4m0 9.2m0 5.9m0 0.2m0 12.4m0 6.5m0 17.4m0 2.8m3.7-121.7m0 9.3m0 18.6m0 2.5m0 4.1m0 0.2m0 3.2m0 13.3m0 1.6m0 7.9m0 0.1m0 3.9m0 1m0 0.8m0 0.6m0 3.3m0 2.4m0 2.3m0 4.7m0 4m0 8.7m0 3.3m0 17.1m3.8-106.6m0 3.3m0 4.8m0 1.1m0 6.8m0 8.2m0 3.3m0 0.7m0 13.1m0 1.4m0 1.5m0 2.9m0 0.9m0 3.5m0 2.4m0 8.7m0 7.1m0 1.9m0 2.6m0 11.7m0 15.1m0 0.7m0 19.3m3.8-138.7m0 17.5m0 2.1m0 5.6m0 7.8m0 2.5m0 15.8m0 5.3m0 2.2m0 7.9m0 0.1m0 4m0 0.2m0 3.9m0 11.9m0 1.6m0 1m0 9.8m0 1.1m0 3.2m0 14.1m0 0.4m0 28.6m3.7-149.4m0 20.2m0 2m0 14m0 4.7m0 0.6m0 3.2m0 1.1m0 6m0 13.8m0 3.6m0 2.6m0 0.1m0 6.5m0 0.7m0 4.2m0 2.9m0 28.3m0 7.1m0 1.3m0 2.8m0 2.1m0 4.5m3.8-125.8m0 1.6m0 12.9m0 0.3m0 0.7m0 29.1m0 2.5m0 1.5m0 2m0 1.7m0 0.3m0 0.7m0 3.2m0 1.1m0 5m0 1.8m0 11.4m0 2.1m0 2m0 1.1m0 20.5m0 4.9m0 28.5m3.7-147.2m0 18.6m0 5.9m0 2.4m0 2m0 0.3m0 5.3m0 18.8m0 3.8m0 4.4m0 2.1m0 4.3m0 9.6m0 10.7m0 0m0 1.3m0 1.4m0 1m0 8m0 3.4m0 23.2m0 11.7m0 13.3m3.8-126.5m0 0.3m0 0.3m0 3.4m0 8.2m0 6.7m0 12.2m0 1.8m0 5.7m0 1.9m0 1.4m0 0.1m0 2.2m0 5.8m0 2.5m0 6.6m0 4m0 3.1m0 7.6m0 3.8m0 0.4m0 1.2m0 47.6m3.8-150m0 13.4m0 5.3m0 1.1m0 0.7m0 12.8m0 0.6m0 3.4m0 0.4m0 8.5m0 9.5m0 2.7m0 7.2m0 0.8m0 5.7m0 6.5m0 0.9m0 1.6m0 5.6m0 26.4m0 8.6m0 18m0 13.3m3.7-146.6m0 1.8m0 10.9m0 8.4m0 3.5m0 13.5m0 3.9m0 6.9m0 1.3m0 3.7m0 3.1m0 8.6m0 3.3m0 0.4m0 3.5m0 4.2m0 0.9m0 24.4m0 5.1m0 5.8m0 13.2m0 1.8m0 12.3m3.8-144.7m0 2.7m0 7m0 1.6m0 5.8m0 5.1m0 18.6m0 3.3m0 5.9m0 0.4m0 1.9m0 2.5m0 16.1m0 2m0 8.4m0 0.1m0 8.2m0 4.9m0 14.4m0 5.1m0 5.9m0 5.1m0 0.4m3.7-144.8m0 10.9m0 10.9m0 14m0 4.3m0 1.1m0 3.9m0 4.8m0 1.2m0 1.7m0 18.6m0 0.2m0 1m0 4m0 8.7m0 14.6m0 0.4m0 0.4m0 3.2m0 4m0 18.3m0 3.9m0 4.1m3.8-125.1m0 10.1m0 10.1m0 1.8m0 12.4m0 3.5m0 5.1m0 3.2m0 8.4m0 1.2m0 0.1m0 4.9m0 1.8m0 6.6m0 1.5m0 5.3m0 0.8m0 7m0 2m0 7.6m0 28.3m0 15.2m0 7.7m3.8-158m0 15.7m0 7.9m0 1m0 5.1m0 4.8m0 9.6m0 7.5m0 2.9m0 1m0 6m0 7.3m0 11.6m0 6.9m0 1.1m0 19.7m0 6.7m0 2.1m0 2.2m0 13.4m0 2.8m0 1.8m0 32.5m3.7-173m0 1.8m0 16.1m0 3.2m0 1.4m0 10.2m0 7.7m0 5.1m0 1.2m0 2.8m0 5.1m0 6.7m0 3.1m0 5m0 5.9m0 13.7m0 6.9m0 3.2m0 3m0 4m0 17.5m0 6.7m0 14.6m3.8-134.6m0 6.1m0 1.5m0 5m0 1.2m0 6.6m0 21.6m0 1.6m0 0.2m0 5.2m0 0.9m0 1.6m0 9.3m0 0.7m0 5.7m0 4.6m0 2.5m0 3.2m0 3.4m0 12.1m0 1m0 1.2m0 48.3m3.8-160.4m0 13.4m0 4m0 1.5m0 4.1m0 5.7m0 6m0 7.7m0 1.7m0 5.4m0 10.3m0 3.2m0 8.7m0 9.4m0 0.4m0 11.2m0 2.2m0 5.9m0 0.6m0 2m0 16.5m0 4.2m0 11.1m3.7-141.6m0 2.8m0 9.4m0 10.3m0 9m0 1.8m0 8.6m0 5.5m0 7.2m0 1.5m0 10m0 0.5m0 1.3m0 5.3m0 1.4m0 2.9m0 2.2m0 15.9m0 0.7m0 1.3m0 37.5m0 0.6m0 6.8m3.8-152m0 9.6m0 11.9m0 1.1m0 14.9m0 5.6m0 0.7m0 2.3m0 5.2m0 6.2m0 1m0 16m0 7.8m0 22.6m0 6.7m0 4.5m0 0m0 11.1m0 8m0 11.7m0 7.5m0 25.9m0 17.3m3.7-208m0 11.6m0 28.7m0 13.8m0 0.1m0 4.7m0 3m0 4m0 4.3m0 0.6m0 3.4m0 3.8m0 19.4m0 0.6m0 7.7m0 11.1m0 0.1m0 3.1m0 0.5m0 17.9m0 4.2m0 0.1m0 10.9m3.8-144.9m0 1m0 31.2m0 3.6m0 3.2m0 2.1m0 0.8m0 1.8m0 7.9m0 2.3m0 12.3m0 1.5m0 3.5m0 1.4m0 4.4m0 9.1m0 4.1m0 11.1m0 3.1m0 12m0 22.2m0 15.4m0 15.6m3.8-182m0 29.1m0 4.2m0 22.7m0 2.4m0 3.7m0 7m0 7.4m0 2.6m0 4.5m0 16.2m0 1.4m0 4.8m0 0.1m0 5.3m0 1.4m0 0.7m0 3.8m0 21m0 5.1m0 23.8m0 16.8m0 27.2m3.7-219.3m0 2.6m0 19.2m0 12.1m0 1.5m0 8.7m0 19.8m0 1m0 12.4m0 7.4m0 4.8m0 7.9m0 3.1m0 0.3m0 1.6m0 2.7m0 11.3m0 34.9m0 0.8m0 3m0 13.7m0 0.8m0 3.1m3.8-174.6m0 2m0 21.5m0 38.5m0 8m0 0m0 1m0 2.3m0 0.7m0 2m0 2.1m0 7.8m0 3.5m0 9.4m0 10.2m0 5.4m0 1.2m0 3.1m0 5m0 1m0 35.4m0 22.5m0 4.8m3.7-185.6m0 25.3m0 1m0 11.8m0 5.1m0 3.6m0 4.8m0 7.7m0 6.9m0 14.6m0 10.6m0 0.8m0 11.6m0 0.1m0 3.6m0 4.3m0 10.1m0 1.7m0 18.5m0 6.2m0 12.3m0 16.1m0 18.6m3.8-199.9m0 4.1m0 9.1m0 5.3m0 2.6m0 27.3m0 32.6m0 6.1m0 1.2m0 0.1m0 0.3m0 1.1m0 9m0 0.7m0 4.1m0 1m0 6.8m0 6.9m0 3.5m0 22.9m0 18.4m0 9.5m0 5.6m3.8-192.9m0 1.6m0 17.8m0 7.3m0 7.4m0 0.5m0 0.2m0 12.2m0 22.5m0 2.6m0 2.3m0 3.6m0 11.6m0 0m0 4.2m0 3.2m0 1.6m0 4.5m0 5.8m0 5.7m0 7.8m0 20.5m0 46.8m3.7-164.7m0 10.8m0 7.5m0 0.6m0 19.8m0 0.1m0 5.8m0 4.2m0 2.2m0 0.3m0 1.6m0 4.9m0 8.6m0 0.7m0 6m0 10.5m0 2.5m0 4.5m0 14.5m0 4.4m0 14m0 23.3m0 32m3.8-198.1m0 0.3m0 17m0 3.4m0 17m0 9.6m0 1.4m0 9.9m0 13.3m0 4.2m0 2.5m0 5.2m0 8.3m0 9.3m0 1m0 4.2m0 2m0 7m0 2.2m0 27.4m0 1.6m0 28.6m0 11.7m3.7-190.4m0 0.6m0 22.5m0 8.3m0 2.1m0 43.4m0 1.6m0 5.2m0 14.6m0 3m0 3.1m0 0.7m0 1.8m0 1.6m0 5.5m0 0.1m0 11.9m0 3.2m0 3.4m0 2.7m0 3.8m0 5.6m0 56m3.8-216m0 9.8m0 20.6m0 0.8m0 3.2m0 17.4m0 2.8m0 1.3m0 20.5m0 18.9m0 0.1m0 0.1m0 13.9m0 8.4m0 1m0 1.8m0 0.8m0 4.8m0 3.3m0 8.1m0 34.3m0 9.3m0 38.5m3.8-223.9m0 38.4m0 9.7m0 7.1m0 7.3m0 21.3m0 3m0 4.7m0 13.1m0 3.2m0 1.7m0 16.6m0 4.9m0 0.6m0 4.9m0 3.7m0 12.3m0 2.6m0 7m0 10.7m0 12.7m0 23.6m0 2.1m3.7-220m0 1.4m0 3.4m0 44.9m0 13.8m0 0.8m0 26.7m0 19.1m0 3.7m0 2.1m0 0m0 10m0 8.7m0 0.3m0 3m0 1.1m0 1.7m0 3.8m0 3.8m0 4m0 8.7m0 11.4m0 35.1m3.8-184m0 12.2m0 3.3m0 5.4m0 5.5m0 1.5m0 3.9m0 22.1m0 3.6m0 0.8m0 20.3m0 22m0 0.1m0 1.1m0 15.3m0 0.5m0 1.5m0 18.5m0 5.9m0 6.2m0 1.1m0 6.8m0 70.3m3.7-258m0 6.5m0 4.3m0 2.3m0 10.7m0 5.4m0 18.4m0 8.1m0 14.5m0 7.9m0 1.2m0 0.2m0 6.9m0 4.8m0 5.8m0 30.1m0 1.4m0 16.3m0 1.2m0 7.8m0 26.5m0 44.2m0 17.9m3.8-246.5m0 24.8m0 5.1m0 37m0 6.4m0 11m0 3.5m0 0.9m0 8.4m0 22m0 0.9m0 10.6m0 1.4m0 3.9m0 13.1m0 1.9m0 1.4m0 4.3m0 0.7m0 11.8m0 4.8m0 15.8m0 65.2m3.8-261.6m0 16.1m0 1.8m0 18.2m0 11.5m0 1.4m0 4.4m0 13.1m0 7.5m0 0.3m0 9.1m0 4.8m0 2.7m0 2.7m0 0.3m0 9.6m0 1.4m0 11.1m0 2.9m0 39.7m0 7.4m0 81.1m0 18m3.7-265.6m0 32.6m0 1.8m0 6.4m0 7.2m0 2.2m0 14.1m0 13m0 10m0 27m0 3.9m0 0.8m0 4.1m0 0.3m0 1.7m0 0.4m0 19.1m0 11.7m0 5.1m0 41.1m0 2m0 2m0 41m3.8-239.7m0 12.3m0 12.5m0 14.7m0 4.4m0 5.6m0 7.6m0 6m0 34.8m0 3.4m0 19.5m0 10.5m0 0.8m0 0.4m0 2.9m0 3.8m0 11.6m0 0.5m0 27.4m0 19.6m0 15.7m0 21.5m0 17.8m3.8-237.2m0 0m0 4.6m0 18m0 6.6m0 4.6m0 3.3m0 3m0 5m0 1.9m0 21m0 6.3m0 15.6m0 3.1m0 6.2m0 6.9m0 5.7m0 13.9m0 1m0 1m0 8.8m0 48.3m0 56.7m3.7-260.3m0 5.9m0 11.6m0 10.7m0 9m0 17.3m0 11.4m0 2.3m0 9.6m0 16.5m0 1.8m0 29.3m0 19.1m0 2.5m0 0.2m0 1.4m0 13.5m0 11.8m0 6.5m0 16.8m0 10.3m0 36.9m0 17.4m3.8-274.4m0 4.5m0 7.5m0 21m0 36.6m0 5.4m0 9.5m0 3.4m0 8.9m0 5.3m0 16.9m0 9.7m0 5.5m0 2.6m0 2.6m0 5.5m0 9.7m0 6.8m0 2m0 12.9m0 5.6m0 57.2m0 42.8m3.7-300.1m0 6.7m0 12m0 23.5m0 27.5m0 2.9m0 1.6m0 3.5m0 4.2m0 10.7m0 2.8m0 0.1m0 7.1m0 2.5m0 21.3m0 15.1m0 1.2m0 3.5m0 8.9m0 24.5m0 19.2m0 10.9m0 83.7m3.8-291.3m0 27.8m0 8.9m0 3.4m0 3.7m0 7m0 16.2m0 2.3m0 0.1m0 0.3m0 6.9m0 5.4m0 1.1m0 7.5m0 6.5m0 16.3m0 39.5m0 6.3m0 20.8m0 21m0 4.5m0 16.9m0 43.2m3.8-228.4m0 6.5m0 12.3m0 4.9m0 10.4m0 0.1m0 15m0 8.4m0 7.3m0 0.4m0 11.5m0 0.2m0 0.4m0 4.5m0 7m0 14.6m0 7.2m0 5.5m0 10.4m0 11.6m0 34.6m0 23m0 15.5m3.7-257.8m0 8.1m0 16m0 10.5m0 8.6m0 11.2m0 0.2m0 14.2m0 16.2m0 0.2m0 6.4m0 1.3m0 20.5m0 9.4m0 2.8m0 5.5m0 6.3m0 9.8m0 40m0 4.9m0 7.5m0 26.7m0 56.8m3.8-259.1m0 8.3m0 2.8m0 17.3m0 3.6m0 26.5m0 3.4m0 0.7m0 9m0 29.8m0 1.1m0 3.8m0 4.4m0 6.6m0 22.7m0 12.4m0 4.4m0 26.9m0 2.8m0 12.3m0 6.6m0 0.4m0 21.8m3.7-255.1m0 22.4m0 9.7m0 29.4m0 3.2m0 3.7m0 0m0 2.3m0 7.1m0 14.9m0 6.6m0 7.4m0 34.2m0 5m0 16.9m0 1.6m0 19.4m0 8.6m0 7.2m0 92m0 0.9m0 14.5m0 0.5m3.8-296.1m0 13.1m0 3.1m0 17.6m0 15.8m0 1.2m0 10.6m0 0.9m0 0.5m0 6.9m0 12.2m0 2m0 2.1m0 27.4m0 6.9m0 3.2m0 10.6m0 8.8m0 14.8m0 3.1m0 46m0 14.5m0 26m3.8-270.8m0 27.3m0 2.2m0 22.6m0 4.2m0 1.3m0 6.1m0 11.4m0 1m0 0.3m0 0.4m0 27.5m0 11.4m0 1m0 22.8m0 9.6m0 26m0 9m0 36m0 6.6m0 50.8m0 1.4m0 16.8m3.7-293.5m0 13.3m0 60.8m0 5.1m0 0.3m0 6.8m0 0.2m0 3.5m0 8.4m0 11.3m0 5.2m0 24.4m0 10.8m0 19.8m0 11.4m0 2.1m0 17.1m0 5.1m0 10.6m0 15.7m0 6.9m0 3.9m0 38.2m3.8-289.7m0 12.6m0 6.2m0 9.9m0 2.4m0 9.1m0 44.5m0 14.1m0 5.4m0 12m0 20.8m0 1m0 11.9m0 3.6m0 19.7m0 6.5m0 27.5m0 33m0 0.6m0 2.9m0 3.2m0 42.9m0 7.8m3.7-302.8m0 6.2m0 7.2m0 14.3m0 3m0 49.3m0 9.7m0 13.2m0 15.4m0 1.4m0 1.8m0 10.1m0 8.7m0 2m0 2.2m0 4.7m0 3.1m0 4.6m0 20.5m0 1.8m0 2.4m0 28.4m0 84m3.8-301.4m0 25m0 10.2m0 7.3m0 2.7m0 15.8m0 1.9m0 37.4m0 4m0 15.2m0 5.1m0 17.7m0 1.7m0 3.3m0 5m0 5.6m0 1.9m0 18.6m0 51.1m0 0.4m0 25.5m0 5.5m0 50.4m3.8-317.3m0 0.5m0 19.5m0 22.5m0 7.9m0 2.1m0 12.2m0 20.2m0 4.1m0 2.8m0 20.4m0 4.7m0 32.4m0 13.4m0 9.3m0 15.8m0 3.4m0 0.7m0 3.8m0 0.8m0 62m0 52.9m0 15.6m3.7-307.9m0 0.4m0 6.5m0 20.8m0 7.6m0 2.7m0 19m0 1m0 5.1m0 16.3m0 0.3m0 15.9m0 19.9m0 7.4m0 22m0 0.3m0 13.8m0 9.2m0 39.4m0 21.6m0 37.2m0 8.9m0 13.9m3.8-314.5m0 1.3m0 19.5m0 19m0 1.6m0 2.6m0 4.6m0 17.8m0 32.6m0 0.9m0 2m0 1.6m0 18.4m0 1.8m0 4.8m0 35.9m0 7.6m0 2.2m0 11.1m0 48.1m0 42.8m0 33.8m0 21m3.7-322.2m0 4.2m0 57.6m0 13m0 6.1m0 0.5m0 1.1m0 10.1m0 2m0 11.5m0 0.3m0 3.2m0 24.2m0 9.9m0 1.3m0 3.2m0 23.3m0 10.1m0 33.3m0 24.4m0 24.2m0 18.8m0 49m3.8-340.2m0 31.2m0 1.2m0 14.7m0 10m0 9.4m0 6.7m0 4.4m0 10.4m0 23.5m0 6.1m0 2.9m0 18.4m0 10.6m0 13.1m0 1.3m0 1.5m0 11.5m0 3.8m0 2.2m0 3.3m0 43.4m0 2.5m3.8-217m0 15.3m0 0.2m0 13.7m0 1.9m0 7.8m0 9.2m0 0.2m0 1.5m0 29.6m0 63.9m0 9.1m0 3.2m0 3m0 6.3m0 40.7m0 5.3m0 15.9m0 21.9m0 4.5m0 8.6m0 28.7m0 32.9m3.7-325.8m0 2.8m0 20.2m0 0.1m0 6.2m0 6.4m0 7.5m0 6.3m0 3.1m0 4.7m0 18.4m0 4.7m0 6.2m0 26.7m0 29.7m0 7.1m0 3.3m0 3.3m0 6.3m0 2.6m0 100.3m0 24.8m0 1m3.8-297.5m0 15.4m0 3.8m0 1.3m0 5m0 0.8m0 14.3m0 10.8m0 7.8m0 17.1m0 3.1m0 6.5m0 7.7m0 36.9m0 7.5m0 6.9m0 0.6m0 63.7m0 26.2m0 16m0 11.8m0 18.9m0 30.2m3.8-342.8m0 13.2m0 26.7m0 5m0 5m0 6.3m0 3.5m0 17.7m0 8.9m0 4.8m0 2.6m0 4.5m0 13.7m0 1.2m0 10.9m0 10.1m0 18.4m0 34.3m0 4.6m0 8.1m0 85m0 7m0 52m3.7-345.1m0 39.3m0 2m0 2.1m0 1.6m0 9.6m0 1m0 4.4m0 33.4m0 7.9m0 0.6m0 4.1m0 12.7m0 26.9m0 6.3m0 3.5m0 0.6m0 1.3m0 29m0 5.3m0 12.3m0 19.8m0 124.4m3.8-329.6m0 22.2m0 1.1m0 3.7m0 10.5m0 21.3m0 0.3m0 7.6m0 2.1m0 6m0 2.4m0 4.7m0 14.5m0 11m0 7.3m0 21.8m0 9.5m0 4.2m0 18.3m0 59.9m0 4.3m0 27.1m0 56.3m3.7-338.1m0 13.9m0 17.8m0 4.8m0 16.3m0 40.2m0 1.9m0 1.2m0 5.7m0 4m0 5m0 2.7m0 8.4m0 27.2m0 4.9m0 10.7m0 6.2m0 3.1m0 4.2m0 19.8m0 59.7m0 58.1m0 16.5m3.8-309.1m0 6.4m0 2m0 19.5m0 19.2m0 5.2m0 25.6m0 5.6m0 4.2m0 6.1m0 13.7m0 10.3m0 4.3m0 31m0 12.5m0 3.7m0 3.5m0 20.6m0 20.7m0 1.4m0 53.6m0 31.5m0 14.6m3.8-342.8m0 1.1m0 17.8m0 38.4m0 17.8m0 4.9m0 2.9m0 9.4m0 10.3m0 6.4m0 10.4m0 13.6m0 21.8m0 15.1m0 26.9m0 1.3m0 10.5m0 2.4m0 2.5m0 11.4m0 25.3m0 10.7m0 11.9m3.7-236.8m0 6.3m0 13.5m0 31.8m0 9.6m0 40.8m0 1.6m0 5.8m0 12.3m0 4.9m0 2.3m0 10.6m0 2.3m0 4.3m0 8.8m0 1.5m0 0.2m0 2.1m0 9.6m0 16.8m0 54.8m0 21.6m0 10.8m3.8-317.4m0 2.5m0 6.6m0 5.6m0 2.4m0 6.4m0 1m0 33.3m0 6.1m0 19.3m0 18.4m0 44.9m0 1.8m0 5.9m0 4.6m0 33.2m0 23.6m0 18.2m0 31m0 20.6m0 13.7m0 5.2m0 4.4m3.7-306.7m0 17.4m0 12.5m0 12.3m0 3.1m0 15.3m0 2.5m0 63.8m0 0.1m0 6.8m0 12.6m0 8.3m0 5.2m0 8.7m0 10.3m0 36.2m0 41.7m0 5.9m0 0.9m0 4.9m0 57.6m0 19.8m0 24.9m3.8-383.1m0 16.5m0 12m0 31m0 10.3m0 7.6m0 12.2m0 2.3m0 16.6m0 2.7m0 2.8m0 19.8m0 2m0 4.5m0 38.6m0 5.7m0 13.2m0 68.4m0 52.5m0 3.6m0 21.6m0 0.9m0 2.5m3.8-329.8m0 6.4m0 10.4m0 10.6m0 12.8m0 0.2m0 5m0 4.6m0 6m0 13.6m0 24.3m0 4.9m0 26.8m0 6.6m0 5m0 12.2m0 17.8m0 2.7m0 4.2m0 40.3m0 5.3m0 70.6m0 10.1m3.7-326.3m0 31.1m0 11.2m0 8.1m0 18.7m0 21.8m0 0.6m0 4.9m0 1.7m0 10.5m0 14.7m0 1.2m0 5.6m0 3.8m0 3.1m0 5.3m0 8.3m0 7.5m0 0.5m0 30.8m0 0.6m0 108m0 5.4m3.8-294.4m0 2.2m0 3.6m0 44.8m0 15.8m0 3.2m0 10.9m0 19.6m0 3.3m0 0.5m0 3.1m0 32.6m0 8.7m0 14.6m0 3.4m0 18.9m0 13.5m0 1.5m0 5.8m0 4.5m0 38.9m0 15.9m0 109.9m3.7-390.4m0 3.9m0 10.1m0 18.7m0 7.3m0 10.9m0 14.4m0 6.2m0 0.7m0 28.6m0 8m0 33.2m0 10.9m0 5.2m0 4.6m0 3.1m0 12.4m0 21.5m0 3.3m0 6.4m0 27.7m0 83.2m0 81m3.8-354.5m0 10.7m0 11.2m0 5.1m0 23.6m0 1.3m0 0.8m0 21.3m0 3m0 10.3m0 2.3m0 9.7m0 18.7m0 17.9m0 13.1m0 4.2m0 54.6m0 10.3m0 15.8m0 28.4m0 34.1m0 2.5m0 30.6m3.8-367.7m0 1.3m0 0.2m0 6.9m0 24m0 11.1m0 4m0 23.4m0 0.2m0 0.3m0 6.1m0 11.3m0 10.5m0 2.9m0 6.8m0 5.3m0 6.8m0 14.5m0 22.6m0 2.4m0 11.6m0 17.3m0 8.3m3.7-222.5m0 26.2m0 1.2m0 29m0 1m0 9.9m0 3.2m0 9.2m0 1.8m0 7.3m0 32.8m0 8m0 1.5m0 27.4m0 13.8m0 6.7m0 12.2m0 5.7m0 2.6m0 7.5m0 90.2m0 7m0 25.4m3.8-335.3m0 9.3m0 0.8m0 4.1m0 16.6m0 13.8m0 9.4m0 1.8m0 9.4m0 29.3m0 26.6m0 7.3m0 34m0 22.1m0 3.5m0 15.6m0 0.1m0 16.5m0 16.9m0 36.4m0 9.3m0 74.6m0 12.1m3.7-362.8m0 12.6m0 37.1m0 12.3m0 12.9m0 16m0 1m0 9m0 11.5m0 8.1m0 7.5m0 6.9m0 7.3m0 14.9m0 9.7m0 15.3m0 6.8m0 18.9m0 3.9m0 27.3m0 22.7m0 17.2m0 94.3m3.8-386.8m0 3.3m0 1m0 31.3m0 9m0 21.4m0 1.3m0 8.2m0 24.8m0 8.4m0 25.4m0 6.7m0 8.1m0 2.3m0 5m0 28.8m0 5m0 11.8m0 7.7m0 40.2m0 82.4m0 23.4m0 2.4m3.8-349.7m0 27m0 4.1m0 1.1m0 23.5m0 5.3m0 6.1m0 11.2m0 2m0 13.1m0 14.9m0 18m0 0.2m0 3.7m0 31.9m0 4m0 4.9m0 3.4m0 11.5m0 14.9m0 43m0 94.7m0 47.2m3.7-396.2m0 28.4m0 3.9m0 2.5m0 1.3m0 1.8m0 31.5m0 9.5m0 6.1m0 20.8m0 15.9m0 0.4m0 3.2m0 18.6m0 34.2m0 2.2m0 11.4m0 22.1m0 52.2m0 22.6m0 17m0 16.3m0 43.3m3.8-374.9m0 32.4m0 2.2m0 14.8m0 1.5m0 4.8m0 11.8m0 12.7m0 36.9m0 1.9m0 16.7m0 27.1m0 1.4m0 5m0 15.2m0 7m0 3.1m0 0.1m0 24.2m0 2.8m0 5.3m0 58.6m0 155.5m3.8-438.6m0 1.9m0 7.1m0 0.4m0 55m0 6.6m0 3m0 5.3m0 0.2m0 20.1m0 13.9m0 0.3m0 1.5m0 13.4m0 4.9m0 46.3m0 12m0 13.8m0 6.1m0 0.6m0 30m0 80.4m0 12.4m3.7-316.1m0 10.4m0 11.5m0 10.9m0 5.2m0 14.8m0 9.3m0 5.4m0 1m0 7.7m0 12.5m0 0.8m0 18.8m0 7m0 16.7m0 2.4m0 20m0 19.1m0 41.7m0 33m0 55.4m0 81.4m0 30.1m3.8-446.9m0 28.8m0 10.8m0 34.1m0 21m0 2.9m0 9m0 6m0 23.5m0 3.3m0 3.2m0 0.5m0 31m0 9.5m0 9.3m0 13.3m0 1.5m0 6.7m0 18m0 32.6m0 57.6m0 29.3m0 6.2m3.7-326.2m0 17.7m0 8.2m0 5m0 6.5m0 2.3m0 13.5m0 2.8m0 9.6m0 5.5m0 1.5m0 13m0 9.1m0 14m0 0.7m0 23.4m0 13.2m0 6.5m0 5m0 21m0 52.2m0 73.2m0 7.6m3.8-315m0 13.7m0 2.5m0 2.5m0 12.7m0 44m0 13.2m0 3m0 1.3m0 15.9m0 8.6m0 19.4m0 0.5m0 4.4m0 22.6m0 4.8m0 5.3m0 4.2m0 6.2m0 3.5m0 10.8m0 108.6m0 18.1m3.8-352.7m0 9.3m0 1.4m0 16.5m0 18.9m0 4.5m0 1.1m0 6m0 5.8m0 3.2m0 2.5m0 16.8m0 17.8m0 18.6m0 54.2m0 2.9m0 1.2m0 3.5m0 45m0 34.3m0 19.6m0 59.7m0 77.3m3.7-408m0 12.3m0 1m0 4.7m0 12.1m0 16.9m0 27m0 52.2m0 4.7m0 5.3m0 42.6m0 6.7m0 2.1m0 2.8m0 20m0 22.6m0 25.4m0 36m0 7.2m0 2.9m0 32.1m0 25.9m0 3.3m3.8-365.9m0 9m0 7.2m0 1.8m0 3.1m0 13.5m0 0.5m0 1m0 1m0 14.9m0 1.8m0 7.9m0 40.9m0 72.6m0 7.2m0 24.5m0 0.7m0 18.8m0 19.4m0 28.1m0 0.9m0 52.8m0 10.7m3.7-370.6m0 36.9m0 6.3m0 1.5m0 5.6m0 17.8m0 2.1m0 22.7m0 3.6m0 0.2m0 46.3m0 2.6m0 19.2m0 0.8m0 13.4m0 8.7m0 17.4m0 8.6m0 11.6m0 6.9m0 134.1m0 26.5m0 23.8m3.8-414.8m0 27.8m0 14.3m0 23.4m0 12.2m0 0.5m0 12.2m0 32.2m0 7.8m0 8.2m0 5.7m0 1.9m0 21.1m0 2.2m0 8.3m0 0.3m0 15.5m0 17.1m0 3.6m0 9.4m0 1.2m0 1m0 113.7m3.8-310.7m0 14m0 28.5m0 7.5m0 5.2m0 5.6m0 5.4m0 14.9m0 19m0 0.9m0 4.4m0 2.6m0 16m0 5.7m0 1.7m0 5.7m0 47.8m0 2.3m0 12.6m0 4.1m0 89.6m0 6m0 46.6m3.7-364.8m0 8.7m0 25.5m0 32.1m0 9.9m0 22m0 6.4m0 2m0 0.9m0 13.2m0 18.2m0 9.6m0 0.5m0 20.6m0 13.6m0 5.5m0 13.1m0 10m0 9.7m0 45.4m0 28.7m0 32.5m0 75m3.8-402.9m0 14.2m0 23.6m0 9m0 4.4m0 11m0 20.1m0 8.9m0 9.5m0 0.9m0 5.8m0 8.2m0 7.6m0 3.6m0 13.3m0 3.8m0 13.3m0 22.9m0 5.6m0 20.3m0 59.3m0 28.7m0 112.4m3.7-445.1m0 15.7m0 12.2m0 30.5m0 13.6m0 13m0 9.3m0 0m0 3.4m0 18.3m0 15.8m0 0.6m0 2.4m0 15m0 8.1m0 19m0 5.7m0 26m0 4.9m0 84.2m0 61.4m0 22.4m0 25.3m3.8-347.5m0 15.3m0 17.5m0 3.2m0 29.4m0 7m0 34.9m0 1.1m0 9.6m0 4.4m0 7.6m0 2.4m0 10m0 0.1m0 30.5m0 0.5m0 13m0 5.4m0 5.5m0 49.7m0 12.8m0 22.6m0 147.1m3.8-460.4m0 5m0 2.5m0 29m0 4.8m0 3.4m0 10.3m0 4.4m0 26m0 0.9m0 6.4m0 5.9m0 5.1m0 8.8m0 31.3m0 25.2m0 52m0 64.8m0 44.9m0 10m0 3.9m0 13.8m0 59.8m3.7-456.9m0 4.6m0 9.6m0 47.8m0 15.5m0 8.2m0 5.1m0 1.9m0 3.2m0 29.6m0 8m0 7.5m0 1m0 7.3m0 11.5m0 33.9m0 8.9m0 8.7m0 43.2m0 10m0 48.5m0 107.2m0 14.2m3.8-426m0 7.1m0 26.6m0 3.9m0 30.7m0 33.8m0 13m0 7.3m0 9.4m0 12.4m0 40.6m0 3.1m0 4.4m0 5.2m0 2.4m0 5.8m0 20.8m0 10m0 1.6m0 3.7m0 6.9m0 160.1m0 22.1m3.7-444.6m0 47.2m0 10.9m0 21.9m0 9.8m0 0m0 2.5m0 12m0 12m0 24.9m0 11.5m0 8.6m0 16.1m0 3.8m0 1.2m0 1.8m0 15.6m0 11.2m0 24m0 41.2m0 6.3m0 24.9m0 120m3.8-409.4m0 10.4m0 26.2m0 7.4m0 9.6m0 11m0 0.6m0 4.5m0 2.6m0 27.3m0 21.8m0 2.2m0 4.2m0 28m0 15.4m0 12.7m0 1.4m0 21.9m0 10.9m0 62.3m0 87.8m0 15.1m0 31.7m3.8-424.4m0 44.9m0 8.6m0 20.9m0 1.3m0 24.4m0 12.7m0 4.1m0 16.8m0 29.5m0 39.3m0 10.1m0 12.1m0 10.4m0 5.2m0 8.7m0 5.5m0 0.2m0 5.2m0 33.2m0 5.3m0 137m0 21.4m3.7-432.3m0 1.7m0 0.1m0 15.1m0 16.9m0 21.2m0 7.3m0 1.5m0 14.5m0 6m0 8.3m0 3.6m0 14.2m0 5.6m0 12.5m0 16.1m0 58.1m0 26.2m0 30.6m0 2.6m0 3.3m0 27.8m0 51.6m3.8-385m0 31.4m0 15.4m0 9.3m0 1.3m0 8.8m0 1.4m0 1.8m0 3.6m0 34.6m0 18.8m0 1m0 14.2m0 9.4m0 20.1m0 6.4m0 13.9m0 5.5m0 27.1m0 25.5m0 5m0 20.7m0 80.6m3.8-340.7m0 18.6m0 14m0 24.2m0 9.1m0 4.3m0 10.1m0 0.1m0 5.9m0 6.2m0 1.7m0 24.4m0 0.6m0 8.7m0 0.9m0 3.1m0 11.8m0 2.5m0 3.2m0 88.9m0 4m0 43.9m0 84m3.7-342.1m0 9.6m0 9.9m0 6.2m0 24.2m0 4.9m0 2.2m0 12m0 11.5m0 0.7m0 11.2m0 4m0 10.1m0 24.2m0 51.6m0 3.3m0 2.5m0 16.8m0 16.8m0 37.2m0 33m0 8m0 60m3.8-346.2m0 6m0 7.8m0 3.9m0 18.6m0 6.3m0 31.2m0 2m0 19m0 5.6m0 0.7m0 14.1m0 14.2m0 14.9m0 30.1m0 24.6m0 22.9m0 58m0 26.2m0 46.5m0 15.7m0 25.7m0 14m3.7-471.6m0 67.8m0 3.4m0 8.5m0 5.5m0 20.8m0 24.2m0 2.6m0 0.9m0 5.6m0 1.4m0 22.8m0 17.9m0 0.5m0 6.8m0 45.2m0 6.5m0 14.8m0 0.1m0 5.4m0 56m0 73.6m0 117.1m3.8-445.8m0 10.6m0 7.2m0 12.8m0 12.6m0 8.1m0 13.5m0 2m0 35.2m0 37.5m0 2.6m0 9.2m0 17.8m0 6.6m0 17.1m0 5.7m0 8m0 0.3m0 47.8m0 13.2m0 32.7m0 61.4m0 5.2m3.8-406.7m0 50.1m0 33.6m0 0.8m0 9m0 13.6m0 35.5m0 9.1m0 4.3m0 21.9m0 26.5m0 31.4m0 0.9m0 0.1m0 24.9m0 27.9m0 19.9m0 2.4m0 19.3m0 14.3m0 25.7m0 33.8m0 1.4m3.7-420.1m0 18.7m0 30.6m0 4.4m0 0.8m0 8m0 5.5m0 31.4m0 18.6m0 27m0 4.1m0 1.4m0 1.4m0 9.6m0 3.3m0 14.6m0 0.9m0 0.7m0 6.2m0 27.6m0 59.3m0 122.1m0 38.8m3.8-387.3m0 0.5m0 10.1m0 5.1m0 3.7m0 11m0 3.7m0 15.3m0 7.5m0 7.4m0 1.7m0 2.7m0 8.4m0 5.9m0 10.8m0 4m0 30.4m0 1.4m0 40.6m0 1.9m0 28.6m0 49.3m0 32.2m3.7-286.1m0 6.2m0 6.9m0 37.9m0 5.4m0 9.7m0 6.2m0 17.1m0 9.2m0 29.5m0 15.3m0 12.5m0 35.1m0 6.6m0 2.4m0 102.2m0 24.9m0 16.3m0 0.1m0 7.9m0 24.6m0 77.1m0 13.6m3.8-523.3m0 44.8m0 23.2m0 0.9m0 10.4m0 3.1m0 4.5m0 4.1m0 22.4m0 5.6m0 16.4m0 11.7m0 4.8m0 9.6m0 9.8m0 61.3m0 36.1m0 1.3m0 59.1m0 4.8m0 7.9m0 73.2m0 32.7m3.8-460.3m0 42.4m0 25.6m0 7.1m0 5.5m0 25.1m0 21.3m0 21.3m0 7.6m0 0.1m0 2.2m0 3.8m0 15.2m0 26.4m0 10.3m0 1m0 33.7m0 5.3m0 4.9m0 16.9m0 179.9m0 52.7m0 19.4m3.7-498.5m0 19.5m0 37.8m0 10.8m0 0m0 8.4m0 32.5m0 10.3m0 5.3m0 2.7m0 0.5m0 7m0 16.6m0 70m0 3.5m0 10.2m0 59.2m0 27.1m0 0.5m0 3.7m0 24.9m0 40.8m0 31.3m3.8-430.1m0 16.4m0 37.1m0 3.8m0 5m0 11m0 4.9m0 0.4m0 16.3m0 25.7m0 10.3m0 14.9m0 7.9m0 14.4m0 21.1m0 6.7m0 3.8m0 3.9m0 12.3m0 0.2m0 36m0 1.5m0 105m3.7-379.7m0 16.6m0 74.1m0 10.4m0 23.3m0 7.7m0 10.6m0 0.9m0 15.5m0 6.7m0 15.9m0 46.3m0 31.9m0 11.3m0 0.6m0 1.8m0 29m0 114.9m0 6.2m0 0.9m0 6.6m0 46.4m0 3.3m3.8-444.5m0 30.8m0 7.5m0 0.1m0 5.1m0 9.5m0 3.7m0 5.8m0 8.3m0 8.8m0 35.3m0 0.9m0 0m0 17.7m0 3m0 46m0 39.5m0 16.9m0 100.7m0 27.7m0 6.3m0 10m0 7.4m3.8-366.2m0 1.4m0 3.4m0 6.5m0 7.9m0 21.3m0 2.2m0 14.9m0 7.5m0 9.6m0 11.8m0 27.1m0 14.6m0 3.7m0 3.1m0 21.3m0 10.4m0 37.5m0 2m0 18.2m0 40m0 32.7m0 43.8m3.7-378.3m0 11.9m0 1.5m0 46.9m0 3.6m0 9.4m0 2.9m0 14.5m0 3.4m0 38.4m0 15.6m0 16m0 1.1m0 5.9m0 0.2m0 24.4m0 28.8m0 13.9m0 5.3m0 23.5m0 58m0 6.8m0 41.1m3.8-392.4m0 14.8m0 3m0 38m0 21.4m0 8.3m0 0m0 5.6m0 2.7m0 21.7m0 5.6m0 5.1m0 14.3m0 2.2m0 3.2m0 0.4m0 17.8m0 0.1m0 26.7m0 76.3m0 70.6m0 114.2m0 25.8m3.7-498.2m0 82.9m0 1.3m0 2.7m0 2.9m0 0.7m0 0.9m0 6.6m0 0.1m0 5.8m0 69m0 31.2m0 10.1m0 5.4m0 22.6m0 24.5m0 15.2m0 52.9m0 8.3m0 19.3m0 31.3m0 7.5m0 72.8m3.8-406.4m0 1m0 23.5m0 8.2m0 7.1m0 3.3m0 10.5m0 0.8m0 14.5m0 8.8m0 5.4m0 6.2m0 45.6m0 10.1m0 23m0 10.3m0 11.6m0 9.6m0 1.2m0 82m0 39.1m0 7.5m0 33.5m3.8-380.9m0 7.4m0 17.2m0 5m0 4.1m0 7.2m0 1.4m0 25.1m0 3.3m0 4.4m0 48.7m0 21.3m0 25.1m0 25.9m0 0.6m0 4.8m0 10m0 27.9m0 21.1m0 6.9m0 34.6m0 28.4m0 51.8m3.7-374.7m0 7.3m0 18.2m0 25.7m0 8.3m0 5.2m0 14.7m0 4.8m0 5.3m0 13m0 25.1m0 29.7m0 0.7m0 2.1m0 13.3m0 22.5m0 5.7m0 32.7m0 6.5m0 107.9m0 53.9m0 45.7m0 4.1m3.8-442.3m0 31.6m0 25.9m0 0.4m0 2.3m0 0.3m0 17.2m0 14m0 0.7m0 2.6m0 17.1m0 26.6m0 7.8m0 30.9m0 10.4m0 4.7m0 0.4m0 6.2m0 1.6m0 21.5m0 56.6m0 117.5m0 10.7m3.7-462.9m0 30.4m0 35.3m0 7.9m0 52.8m0 7.3m0 9.4m0 16.4m0 3.8m0 8.5m0 7.7m0 9.7m0 6.7m0 38.7m0 9.6m0 9.3m0 14m0 15.1m0 36.8m0 93.6m0 63.2m0 2.2m0 64.7m3.8-543.5m0 12.9m0 7.4m0 55.5m0 11.7m0 42.9m0 25.2m0 9.7m0 53m0 13.7m0 13.3m0 14.6m0 2.4m0 2.3m0 7.2m0 2m0 1.3m0 66.4m0 16m0 17.3m0 8.6m0 19.9m0 44.4m3.8-431.5m0 51.6m0 23.6m0 11.6m0 1m0 3m0 1.4m0 0.2m0 14.6m0 20.3m0 8.6m0 16.2m0 1m0 41.2m0 10.6m0 9.7m0 9.4m0 43.3m0 13.4m0 21.6m0 5.2m0 113.6m0 3.7m3.7-441.4m0 9.7m0 19.9m0 31.7m0 13.8m0 0.3m0 14.4m0 38.5m0 0.4m0 0.8m0 3.3m0 2.4m0 22.3m0 12.2m0 1.2m0 16.6m0 28.6m0 4m0 40.6m0 15.6m0 26.5m0 82m0 53m3.8-371.3m0 7.9m0 4m0 3.5m0 7.6m0 1.1m0 0.1m0 6.9m0 32.7m0 0.9m0 7.2m0 5.5m0 4.4m0 23.3m0 37.2m0 26.6m0 31.9m0 22m0 31.6m0 114.2m0 11.6m0 18.2m0 7.1m3.8-440.3m0 55.3m0 0.7m0 8.9m0 6.4m0 2.7m0 9.3m0 5.8m0 9m0 33.9m0 34m0 7.7m0 10.6m0 4.4m0 11.8m0 0.1m0 3.3m0 14.3m0 23.4m0 60.2m0 12.2m0 11.6m0 53.6m3.7-334.6m0 5.9m0 4.1m0 13.2m0 10.5m0 1.3m0 1.9m0 8m0 28.2m0 19.9m0 11.8m0 1.2m0 0.4m0 4.8m0 8.2m0 36.6m0 26.7m0 30m0 72.5m0 25.6m0 43.6m0 3.2m0 6m3.8-399.6m0 34.9m0 12m0 9.3m0 5.7m0 2.1m0 10.8m0 4.4m0 2.5m0 11.5m0 3.8m0 5.1m0 8.4m0 25.7m0 22.9m0 1m0 24.7m0 14.6m0 26.7m0 24m0 55.8m0 116.5m0 24.2m3.7-488.4m0 9m0 32m0 3.4m0 23.9m0 3.5m0 34.7m0 2m0 3.6m0 19.5m0 9.4m0 2.4m0 2.9m0 10.5m0 0.9m0 18.2m0 13.8m0 37.6m0 55.7m0 160m0 13.3m0 11.2m0 34.2m3.8-443.3m0 14.2m0 24m0 2.9m0 26.2m0 13.4m0 5.6m0 5m0 14.4m0 0.9m0 18.8m0 37.2m0 15.6m0 8.5m0 24.2m0 0.7m0 0.8m0 21.3m0 12.6m0 5.4m0 12.9m0 9.4m0 97.3m3.8-424.9m0 52.1m0 36.4m0 15.6m0 4.3m0 13.5m0 15m0 7.9m0 13.7m0 8.7m0 5.6m0 2.1m0 22.7m0 14.9m0 15.3m0 15.9m0 2.6m0 27.7m0 4m0 2.4m0 32.1m0 39.9m0 1.3m3.7-332.4m0 9.1m0 45.5m0 18.7m0 23.5m0 24.8m0 0.4m0 1.3m0 5m0 6m0 6.3m0 19.4m0 4.4m0 5.5m0 10m0 5.2m0 10.4m0 13.4m0 90m0 6m0 56.4m0 91.9m0 12.9m3.8-476.2m0 82.7m0 6.7m0 1.1m0 3.8m0 5.2m0 2.4m0 26.1m0 4.6m0 19.8m0 6m0 4.1m0 8.9m0 0.4m0 20.8m0 13.2m0 12.2m0 3m0 5.3m0 19m0 11.7m0 47.8m0 157.7m3.7-425.2m0 29.1m0 4.8m0 17.5m0 14.5m0 25.1m0 6.7m0 3m0 4.7m0 2.1m0 2.9m0 4.8m0 6.2m0 37.9m0 22.6m0 24m0 2.8m0 54.8m0 40.7m0 8.1m0 19.3m0 65.9m0 27.5m3.8-401.3m0 1.4m0 2.9m0 4.5m0 21.2m0 1.9m0 2.5m0 15.8m0 30.2m0 10m0 22.2m0 0.9m0 17.8m0 3.4m0 14.1m0 25.3m0 3.5m0 17.9m0 82.5m0 29.5m0 50.8m0 22.4m0 58.8m3.8-494.4m0 32.7m0 43.2m0 19.9m0 9.1m0 13.4m0 3.4m0 16.2m0 0m0 4.1m0 0m0 15.8m0 5.2m0 7.9m0 43.8m0 20.6m0 7.3m0 4.7m0 0.9m0 28m0 127.9m0 19.2m0 73.8m3.7-427.6m0 16.1m0 21m0 20.1m0 17m0 1.9m0 8.5m0 9.8m0 32.1m0 8.9m0 1.1m0 1.8m0 11.1m0 21.1m0 10.7m0 0m0 8.5m0 1.8m0 58m0 8.8m0 4.1m0 39m0 107.3m3.8-460.8m0 40.5m0 25m0 7m0 17.8m0 1.6m0 5.4m0 11.7m0 18.7m0 18.2m0 10.2m0 12.3m0 11.5m0 24.8m0 10.2m0 15.6m0 12.9m0 37.6m0 74.4m0 47.7m0 2.4m0 9.1m0 60.8m3.7-424.5m0 0.3m0 14m0 27.6m0 10.5m0 3m0 4.1m0 8.8m0 8.6m0 1.2m0 4.4m0 1.1m0 3.3m0 25.8m0 13.5m0 9.3m0 7m0 28.9m0 37.3m0 22.8m0 61.5m0 30.6m0 86.4m3.8-459.4m0 20.9m0 3.6m0 16.8m0 37.1m0 10.8m0 0.2m0 5.4m0 18.2m0 31.5m0 5.8m0 15.7m0 0.1m0 24.6m0 1.3m0 51.6m0 6.4m0 2.7m0 108.5m0 25.8m0 0.7m0 42.1m0 56.3m3.8-451.5m0 1m0 2.2m0 9.9m0 10.2m0 3.2m0 2.3m0 5.5m0 35.8m0 5.9m0 17.1m0 14.4m0 2.9m0 5m0 3.4m0 31m0 4.9m0 36.3m0 13.9m0 3.3m0 6.4m0 1.6m0 80.8m3.7-322.7m0 19.1m0 18.8m0 2.5m0 6.9m0 9.8m0 4.1m0 6.4m0 2m0 4.7m0 32.9m0 5.4m0 2.8m0 11.5m0 5.7m0 29m0 7.6m0 16.8m0 8.6m0 35m0 19m0 159.6m0 9.5m3.8-425.3m0 9.1m0 5.5m0 11.1m0 19m0 11.4m0 0.3m0 8.8m0 4.8m0 1.3m0 20.6m0 2.5m0 1.8m0 28.6m0 15.3m0 71.6m0 7.7m0 55.7m0 25.9m0 30.1m0 5m0 5m0 18.2m3.7-360m0 16.8m0 14.3m0 18.7m0 12.9m0 0.5m0 26m0 4.5m0 24.4m0 4.2m0 38.7m0 5.8m0 5.6m0 0.7m0 14m0 11.3m0 24.1m0 3.8m0 3.7m0 15.8m0 2.2m0 229.3m0 25.1m3.8-442.1m0 13.2m0 0.8m0 13.4m0 10.2m0 7.2m0 1.3m0 12.1m0 9.5m0 44.1m0 6.8m0 25.1m0 2.6m0 18.7m0 19.5m0 46.2m0 9.2m0 35.7m0 25.8m0 53.7m0 5.6m0 19.4m0 4.7m3.8-429.4m0 8.6m0 16.1m0 7m0 15.1m0 0.9m0 4.9m0 11.5m0 8.4m0 10.5m0 0.4m0 18.9m0 11.7m0 21.3m0 62.9m0 5.7m0 11.7m0 0.4m0 9.9m0 50.4m0 49.4m0 81.6m0 42.4m3.7-449.3m0 13.9m0 1.6m0 12.9m0 15.7m0 29.7m0 4.3m0 12.3m0 21.8m0 13.3m0 1.2m0 11.7m0 16.5m0 48.2m0 6.9m0 16.9m0 0m0 6m0 14.5m0 30.8m0 115m0 47.9m0 53.3m3.8-491.6m0 26.2m0 16.1m0 9.2m0 6.6m0 1.1m0 2.3m0 15.8m0 22.8m0 6.1m0 4.4m0 9.5m0 13.5m0 1.5m0 12.3m0 43.9m0 33.8m0 12.9m0 14.9m0 16.4m0 44m0 46.8m0 33.8m3.8-354.3m0 42.8m0 9.6m0 1.2m0 3.9m0 0.2m0 7.6m0 0.9m0 15m0 1.4m0 1.7m0 26.6m0 6.1m0 39.3m0 15m0 17.3m0 71.6m0 1.5m0 2.8m0 14.8m0 41.5m0 1.8m0 30.3m3.7-361.4m0 3.2m0 14.3m0 22.4m0 1.8m0 17.5m0 2.8m0 21.6m0 39.9m0 0.6m0 12.8m0 18.4m0 3m0 21.3m0 2.6m0 8.4m0 38m0 60.8m0 3.8m0 37.7m0 21.2m0 3.5m0 28.4m3.8-404.9m0 6.5m0 29.8m0 4.3m0 15.9m0 6.9m0 9.1m0 0.5m0 56.3m0 16.8m0 0.6m0 2.3m0 13.1m0 0.9m0 39.7m0 20.4m0 4.6m0 1.9m0 35.1m0 26.1m0 3.8m0 76.5m0 105.9m3.7-476.4m0 30.6m0 13.7m0 7.7m0 2.3m0 13.5m0 8m0 12.7m0 0.7m0 20.2m0 5.2m0 2.4m0 3.8m0 52.4m0 4.9m0 24.4m0 7.1m0 3m0 11.5m0 4.5m0 139.5m0 97.9m0 9.4m3.8-463.2m0 10.1m0 11.5m0 1m0 5.5m0 2.5m0 4.4m0 0.1m0 0.3m0 54.7m0 15m0 9.9m0 34.7m0 30.4m0 21.1m0 3m0 14.2m0 17.4m0 17.2m0 31.9m0 7.7m0 16.4m0 51m3.8-344.2m0 17.6m0 15.4m0 22m0 13.2m0 5m0 5.2m0 4.7m0 17.9m0 19.3m0 28.1m0 13m0 13.3m0 1.8m0 6.5m0 4.5m0 2.3m0 8.7m0 73.3m0 2m0 2.3m0 20.9m0 133.5m3.7-441.9m0 23.3m0 26m0 2.6m0 16.4m0 6.4m0 24.8m0 7m0 14.2m0 8.4m0 2.8m0 3.8m0 16.6m0 1m0 8m0 1.2m0 5.7m0 38.7m0 67.7m0 33.4m0 3.5m0 28.1m0 62.6m3.8-406.8m0 6.3m0 20m0 7.9m0 19.6m0 10.2m0 2.6m0 0.9m0 11.7m0 6.1m0 15.9m0 9.2m0 18.7m0 4.8m0 26m0 11.5m0 5.7m0 19.4m0 14.2m0 1.4m0 66.1m0 109.5m0 80.3m3.7-439.2m0 19.7m0 5.8m0 1.4m0 9.8m0 2.4m0 5.4m0 4.5m0 10.4m0 6.3m0 38.8m0 13.5m0 5m0 1.1m0 0.9m0 2.4m0 2.1m0 36.2m0 8.8m0 2.4m0 57.7m0 9.9m0 104m3.8-365.7m0 17.7m0 27.8m0 4.7m0 14.6m0 9m0 2.9m0 7.6m0 1.8m0 0.7m0 2.4m0 24.2m0 3.1m0 35.2m0 6.4m0 2.6m0 2.1m0 12m0 141.5m0 26.2m0 2.2m0 86.9m0 9.7m3.8-428m0 8.7m0 4.9m0 14.1m0 3.6m0 2.3m0 12.9m0 3.4m0 10.5m0 1m0 23.5m0 13.5m0 7.3m0 15.4m0 8.3m0 3m0 15.5m0 38m0 1.7m0 3.5m0 49.6m0 70.4m0 91.6m3.7-405.4m0 2.1m0 17m0 14m0 23.2m0 12.2m0 0.8m0 13.2m0 7.6m0 2.5m0 1.9m0 13.8m0 40.3m0 9.8m0 29.2m0 6.5m0 5.1m0 33.8m0 7.8m0 5.5m0 34.8m0 29.1m0 89.1m3.8-395m0 19.3m0 12.3m0 0.9m0 17.4m0 5.5m0 11.7m0 10.6m0 11.7m0 2.3m0 11.5m0 9.4m0 64.8m0 4.5m0 8.2m0 5.9m0 1.8m0 3.7m0 30.2m0 73.9m0 38.4m0 58.4m0 11.2m3.7-383.2m0 26.4m0 3m0 3.3m0 8.9m0 5m0 17.5m0 4.8m0 5m0 12.6m0 19.3m0 3.7m0 7.3m0 36.7m0 4.9m0 18.6m0 11.5m0 4.4m0 55.5m0 12.8m0 62.9m0 41.2m0 5.1m3.8-340.9m0 5.8m0 10.4m0 4m0 4.3m0 6.2m0 6.4m0 7.4m0 3.9m0 12.9m0 6.1m0 21.8m0 0.9m0 5.2m0 17.4m0 2.2m0 15.5m0 29.5m0 64.1m0 22.5m0 44.7m0 18.9m0 41m3.8-411.9m0 17m0 2.8m0 12.8m0 10.8m0 8.2m0 2.7m0 14.4m0 3.9m0 10.1m0 7.8m0 20m0 26.1m0 6.2m0 46m0 4.1m0 17.5m0 42m0 3.5m0 19.2m0 15.7m0 3.7m0 7.5m3.7-297m0 18m0 9.3m0 41.3m0 30.2m0 1.6m0 3.7m0 8.3m0 10m0 23m0 3.4m0 1.7m0 3.2m0 4.8m0 0.4m0 4.8m0 39.7m0 93.8m0 21.8m0 12.4m0 3m0 81.1m0 18.1m3.8-421.1m0 5.5m0 10.6m0 18m0 14.3m0 5.5m0 0.3m0 11.4m0 4.9m0 8.1m0 7.3m0 13m0 18m0 31.1m0 15.2m0 14.5m0 35m0 0.3m0 29.4m0 27.7m0 32.7m0 30.7m0 55.7m3.7-391.9m0 2.5m0 4.7m0 8.9m0 0.7m0 19.2m0 6.8m0 36.3m0 28.7m0 0.1m0 13m0 38.5m0 8.9m0 7.2m0 16.7m0 25.5m0 3.7m0 18.2m0 32.7m0 24.4m0 63.7m0 34m0 11m3.8-412m0 26.1m0 17.2m0 3.3m0 2.9m0 6.2m0 2.8m0 12.1m0 4.5m0 54.5m0 5m0 0.6m0 8.2m0 3.1m0 13.2m0 21.4m0 4.8m0 0.8m0 0.9m0 21.1m0 26.9m0 110.8m0 65.9m3.8-403.6m0 29m0 18.4m0 17.4m0 19m0 0.8m0 4m0 3.8m0 6.8m0 7.8m0 3.8m0 0.7m0 27.1m0 12.7m0 4.9m0 5m0 32.7m0 10.5m0 56.1m0 66m0 7.9m0 59.7m0 14.7m3.7-398.8m0 1.7m0 3.1m0 6.5m0 19m0 2.3m0 12.4m0 3.9m0 11.4m0 43.5m0 12.8m0 42.4m0 3.9m0 3.5m0 7.8m0 5.7m0 4.1m0 29.7m0 43.9m0 43.8m0 14m0 37.7m0 0.3m3.8-365.9m0 9m0 12m0 4.4m0 10.3m0 5.3m0 1.1m0 32.7m0 6.5m0 31.8m0 8m0 9.3m0 2.9m0 12.9m0 2.8m0 1.7m0 9.1m0 5.9m0 6.6m0 19.9m0 4.1m0 4.2m0 62.7m3.8-225.7m0 3.2m0 4.4m0 18.5m0 2.5m0 1.2m0 4.2m0 5.7m0 4.1m0 17.4m0 2.8m0 16.7m0 19.6m0 10.1m0 2.7m0 17m0 22.4m0 3.2m0 16.5m0 8.6m0 98.7m0 11.4m0 35.8m3.7-354.7m0 20.4m0 3.9m0 4.5m0 0m0 4.6m0 5.9m0 3.5m0 8.9m0 6m0 10.3m0 1m0 29.6m0 51.9m0 7.4m0 1.6m0 14.8m0 16.3m0 26.8m0 82.6m0 1.1m0 10.7m0 72.2m3.8-381.8m0 28.9m0 10.8m0 2.8m0 5.6m0 9.4m0 15.1m0 7.2m0 10.4m0 7m0 1.5m0 9.6m0 2.8m0 20.6m0 14.5m0 21.7m0 5.4m0 15.3m0 9.7m0 0.1m0 36.4m0 52.6m0 54.7m3.7-330.9m0 18.6m0 12m0 11.9m0 13.1m0 0.3m0 12.5m0 5.1m0 10.6m0 12.3m0 4.4m0 2.8m0 37m0 1.1m0 21.9m0 12.5m0 21.6m0 28.2m0 20.9m0 39.4m0 43m0 7.6m0 23.3m3.8-358.7m0 2.1m0 8.2m0 3.7m0 1.7m0 11.9m0 35.1m0 12m0 16.6m0 0.3m0 7.7m0 7.5m0 7.9m0 10.9m0 9.4m0 6.7m0 5.4m0 2.1m0 1.7m0 24.8m0 37.9m0 14.8m0 131.9m3.8-327.7m0 12.9m0 8.9m0 10.1m0 1.7m0 8.7m0 20.1m0 10.1m0 2.7m0 2.5m0 4.9m0 5.1m0 33.4m0 0.5m0 0.6m0 12.6m0 5.3m0 0.8m0 2.6m0 4m0 6.1m0 51.4m0 178.5m3.7-410.3m0 29.8m0 1.5m0 7.1m0 2.2m0 5.1m0 6m0 1.7m0 6.5m0 14.5m0 11.4m0 1.6m0 16.1m0 6.4m0 18.4m0 40.1m0 24.1m0 4.1m0 68m0 1.6m0 35.3m0 5.4m0 62.9m3.8-356.7m0 6.3m0 30.8m0 15.5m0 16.5m0 7.4m0 11.8m0 8.8m0 2.7m0 16.1m0 6.9m0 24.4m0 7.7m0 2.2m0 8.2m0 1.1m0 8.4m0 11.8m0 0.8m0 77.9m0 26.3m0 1.3m0 51.9m3.7-333.2m0 10.4m0 3.5m0 8.6m0 11.1m0 10.5m0 3.2m0 0.4m0 1.7m0 10.8m0 4.9m0 18.6m0 0.7m0 20.3m0 1.3m0 0.4m0 25.6m0 31.9m0 59.8m0 38.8m0 0.5m0 15.1m0 90.8m3.8-378.5m0 24.2m0 29.4m0 8.8m0 1.2m0 2.4m0 13.5m0 23.6m0 4.1m0 2.4m0 0.4m0 4.9m0 19.9m0 9.1m0 17.8m0 8.4m0 0.9m0 9.1m0 7.7m0 74m0 15.2m0 66.8m0 26.9m3.8-371.6m0 15.4m0 3m0 6.7m0 14.4m0 7.4m0 5.5m0 5.4m0 12.4m0 19.9m0 7.6m0 40.5m0 16.2m0 1.9m0 37.8m0 0.3m0 12.6m0 3m0 6.6m0 9.1m0 5.7m0 9.6m0 88.3m3.7-288.8m0 11.7m0 1.2m0 1.3m0 0.8m0 4.1m0 0.8m0 3.6m0 2m0 7.9m0 2.7m0 2.7m0 4.3m0 7m0 52.5m0 3m0 27.8m0 2.3m0 1.3m0 19.1m0 70.7m0 57.3m0 1.5m3.8-300.7m0 6.6m0 3.5m0 5.9m0 0.9m0 20.9m0 3.1m0 20.5m0 0.3m0 5.4m0 20.5m0 11.4m0 1.4m0 7.8m0 3.3m0 4.5m0 3.3m0 51.1m0 11.7m0 33.6m0 50.6m0 8.6m0 28.2m3.7-290.2m0 19.1m0 0.8m0 9m0 5m0 11.5m0 2.5m0 4.2m0 1m0 11m0 16.2m0 7m0 7m0 8.5m0 4.8m0 5.5m0 17.3m0 5.5m0 20.1m0 32.2m0 12.8m0 38.3m0 117.4m3.8-382.5m0 12.1m0 7.2m0 26.9m0 1.7m0 10.7m0 6.3m0 27.4m0 5.2m0 9m0 2.8m0 15.4m0 8m0 0.5m0 4.2m0 0.5m0 29.4m0 79.7m0 0.2m0 61.1m0 12.7m0 3.8m0 12.9m3.8-333.6m0 3m0 36.5m0 10.7m0 1.9m0 4.2m0 5m0 25.5m0 7.1m0 3.4m0 0.1m0 0m0 5m0 36.4m0 0.1m0 11.4m0 20.1m0 8.3m0 16m0 29.9m0 94m0 20.4m0 45.9m3.7-338.6m0 2.6m0 8.6m0 3.6m0 5.5m0 5.1m0 5.5m0 2.1m0 29.5m0 7.7m0 8.6m0 29.2m0 3m0 6.2m0 11.6m0 6m0 3.6m0 10.3m0 60.9m0 39.2m0 28.9m0 31.3m0 28.5m3.8-351.2m0 2.9m0 5m0 4m0 8.9m0 7.2m0 5.6m0 16.6m0 2.9m0 6.7m0 2.6m0 8.2m0 6.1m0 9.5m0 1.6m0 13.3m0 19m0 12.2m0 97.7m0 31.4m0 1.7m0 40.4m0 7.8m3.7-321.8m0 19.5m0 12.2m0 1m0 2.7m0 1.3m0 0.7m0 6.2m0 28.5m0 5.7m0 4.1m0 0.6m0 5.8m0 4m0 0.9m0 2m0 42.8m0 12.9m0 4.4m0 92m0 44.3m0 20.8m0 46m3.8-351.2m0 13.7m0 2.9m0 18.5m0 3.1m0 16.7m0 9.3m0 20.2m0 3.8m0 1.1m0 1.4m0 1.9m0 22.9m0 6.8m0 0.4m0 5m0 0.4m0 4.8m0 3.4m0 11.3m0 11.5m0 1.2m0 62.9m3.8-216.6m0 19.1m0 5.8m0 1.8m0 0.2m0 6.4m0 3.9m0 6m0 6.5m0 10.6m0 1.7m0 3.8m0 15.6m0 1.8m0 2m0 7.8m0 4.7m0 17.4m0 26.5m0 15.2m0 7.3m0 10.6m0 12.6m3.7-189.6m0 22.4m0 7.9m0 3.7m0 18.9m0 5.7m0 9.1m0 1m0 0.5m0 4.1m0 4.4m0 7.8m0 1.4m0 5.9m0 10.2m0 0.2m0 7.8m0 30.9m0 10.7m0 10.5m0 35.8m0 44.3m0 101.6m3.8-337.1m0 23.1m0 2.1m0 0.9m0 4m0 2.3m0 6.9m0 7m0 39.3m0 5.5m0 15.9m0 4.6m0 21.4m0 11.5m0 1.2m0 1.7m0 2m0 6.1m0 11.6m0 44.3m0 30.6m0 3.6m0 77.7m3.8-305.3m0 13.4m0 4.5m0 0.7m0 0.6m0 4.7m0 1.1m0 15.8m0 12.1m0 1.7m0 4.2m0 0.6m0 10.3m0 5.8m0 20.1m0 5.2m0 17.1m0 18.3m0 34.5m0 15.8m0 27.4m0 55.4m0 39.7m3.7-295m0 8.5m0 14.4m0 17.8m0 1.7m0 4.2m0 5.7m0 4.4m0 1.3m0 0.2m0 1.5m0 0.3m0 5.8m0 1.6m0 3.4m0 1.7m0 31.8m0 16.8m0 8.6m0 6.9m0 1.6m0 23.7m0 127.8m3.8-284.6m0 13.9m0 1.5m0 3.5m0 1.6m0 12.9m0 0.5m0 0.2m0 4.6m0 3.3m0 10.2m0 15.3m0 18.6m0 5.9m0 4.9m0 16m0 9.4m0 30m0 7.3m0 36.2m0 53.1m0 14.3m0 44.7m3.7-327.5m0 21.3m0 14.4m0 14.5m0 7.2m0 6.3m0 0.3m0 0.1m0 1.6m0 5.7m0 8.1m0 2.9m0 11.5m0 14.1m0 7.7m0 0.4m0 6.9m0 2.5m0 9.2m0 14.3m0 33.4m0 13.2m0 31m3.8-218.4m0 20.1m0 26.2m0 2.4m0 4.6m0 3.1m0 2.5m0 1.1m0 16.3m0 2.2m0 0.3m0 14.6m0 11.3m0 13.7m0 0.7m0 24.7m0 11m0 2.5m0 6.3m0 0.2m0 1.1m0 49.5m0 1.9m3.8-195.5m0 7.9m0 8.2m0 4.9m0 5.7m0 5.9m0 9.7m0 4.1m0 18.4m0 1m0 1.5m0 6.5m0 5.6m0 9.6m0 4.6m0 14m0 2.1m0 1.9m0 17.7m0 6.4m0 48.4m0 78.1m0 27.7m3.7-297m0 4.7m0 11.9m0 11.9m0 7.9m0 6.4m0 0.9m0 7.7m0 3.6m0 20.7m0 7.8m0 2.8m0 6.5m0 9.8m0 6.5m0 2.5m0 10.4m0 34.3m0 26.6m0 4m0 15.1m0 28.7m0 2.8m3.8-236m0 5.7m0 3m0 17.6m0 25.1m0 20.8m0 1.3m0 7.1m0 3.5m0 8.5m0 1.8m0 7.5m0 0.1m0 14m0 3.6m0 12.2m0 7.8m0 1.5m0 21.9m0 37.5m0 6.7m0 80.1m0 1.6m3.7-279.4m0 10.2m0 37.9m0 2.6m0 6m0 12.7m0 3.4m0 6.6m0 1.5m0 15m0 1.1m0 5.6m0 22.2m0 0.5m0 12.1m0 5.9m0 2.4m0 11.5m0 29.3m0 0.8m0 19m0 31.2m0 31.1m3.8-248.4m0 13.7m0 20.6m0 0.8m0 2.9m0 0.1m0 11.3m0 2.6m0 8.2m0 0.5m0 1.3m0 21.2m0 11.4m0 12.3m0 26.7m0 0.4m0 2.6m0 4.3m0 17.6m0 22.5m0 8.2m0 58.7m0 34.9m3.8-292.5m0 29.2m0 0.8m0 1.8m0 5.7m0 29.6m0 1m0 4.3m0 0.7m0 5.8m0 1.9m0 11.6m0 2.3m0 3.6m0 17.9m0 0.5m0 3.8m0 34.4m0 0.2m0 55.9m0 14.1m0 9.4m0 23.3m3.7-254.5m0 3.8m0 3.8m0 5.4m0 21.9m0 1.5m0 11.3m0 10.9m0 3.9m0 4.6m0 7.9m0 2m0 6.7m0 4.5m0 3.9m0 0.3m0 3.7m0 8.8m0 6.7m0 4.2m0 17.8m0 4.2m0 7.1m3.8-141.9m0 3.8m0 10.4m0 2.4m0 1.4m0 4.7m0 10.6m0 6.1m0 15.2m0 0.4m0 3.7m0 3.5m0 7.9m0 13.4m0 1.5m0 17.1m0 11.1m0 8.5m0 7.6m0 26.6m0 47.3m0 15.2m0 2.6m3.7-197.5m0 0.5m0 15.5m0 5.1m0 11m0 29.1m0 4.6m0 2.1m0 12.9m0 2.2m0 3.7m0 9.5m0 0.7m0 4.7m0 5.6m0 2.7m0 2m0 0.6m0 5.5m0 4.6m0 68.9m0 34.8m0 6.9m3.8-220m0 4.2m0 0.5m0 0.1m0 10m0 1.8m0 6.6m0 0.7m0 10.7m0 5.4m0 4.1m0 6.5m0 3.4m0 33.8m0 4.1m0 13.9m0 1.1m0 0m0 8.6m0 89.8m0 2.7m0 29.3m0 10m3.8-262.5m0 6.7m0 2.7m0 28.4m0 3.1m0 1.8m0 1.3m0 0.5m0 1.4m0 23m0 9.4m0 13.4m0 4.7m0 6m0 10.4m0 31.5m0 9.4m0 22.2m0 4.2m0 10.8m0 0.9m0 25.7m0 10.5m3.7-229.5m0 7m0 31.7m0 7.3m0 6m0 0.4m0 2.9m0 19.3m0 3.4m0 6.5m0 1.2m0 3.7m0 0.7m0 8.8m0 1.1m0 7m0 0.6m0 12.8m0 1.7m0 26.7m0 66m0 0.6m0 49.4m3.8-236.1m0 6.9m0 3.1m0 8.8m0 7.8m0 0.5m0 4.4m0 1.2m0 1.1m0 16.5m0 0.5m0 33.7m0 9.5m0 4.3m0 7m0 22m0 1.4m0 17.7m0 1.9m0 4.5m0 9.1m0 9.3m0 9.9m3.7-189.3m0 14.8m0 6.6m0 4.2m0 9.8m0 1.9m0 3.2m0 1.3m0 9.8m0 15.3m0 8.2m0 1.5m0 13.4m0 19.8m0 9.5m0 6.8m0 0.3m0 1.8m0 25.4m0 24.9m0 21.5m0 6.8m0 15.8m3.8-225.4m0 12.7m0 14.5m0 0.5m0 2.8m0 8.8m0 10m0 5.5m0 2.1m0 4.8m0 0.9m0 5.1m0 13.6m0 11.7m0 22.3m0 4m0 1.1m0 17.8m0 2.5m0 34.3m0 2.7m0 19.6m0 48.8m3.8-230.9m0 12m0 2.8m0 3.5m0 4.6m0 1.1m0 1.5m0 6.5m0 6.4m0 4.5m0 11.1m0 13.8m0 10.4m0 44.7m0 3.5m0 2.6m0 28.4m0 5.2m0 3.9m0 0.8m0 18.9m0 14.2m0 9.6m3.7-201.5m0 10.5m0 2.9m0 5.4m0 2.1m0 7.1m0 15.8m0 4.6m0 2.1m0 0.5m0 1.9m0 5.5m0 2.9m0 5.2m0 1.5m0 10.9m0 2.6m0 36.5m0 1.1m0 41.7m0 1.2m0 13.1m0 15.5m3.8-181.2m0 1.1m0 8.1m0 0.7m0 6.3m0 5.4m0 3.4m0 0.1m0 9.7m0 3.2m0 1.5m0 4m0 1.9m0 10.8m0 2.4m0 1.5m0 36.9m0 4.2m0 20.1m0 40.5m0 7.5m0 0.3m0 26m3.7-207.4m0 1.2m0 14.2m0 10.6m0 5.6m0 1.4m0 0.5m0 17.2m0 2.3m0 2.6m0 0.2m0 6.4m0 5.1m0 5.9m0 2.1m0 6.7m0 26.3m0 2.5m0 7.3m0 3.7m0 1.5m0 37.4m0 16m3.8-163.7m0 15.1m0 8.2m0 2m0 0.6m0 4.3m0 10.9m0 3.7m0 7.3m0 3.1m0 2.1m0 0.2m0 10.8m0 0.8m0 6.5m0 2m0 10.7m0 5.7m0 15.5m0 3.1m0 15.3m0 22.6m0 24.7m3.8-184.1m0 24.5m0 13.8m0 0.8m0 4.4m0 1m0 0.6m0 10.6m0 19.4m0 1.3m0 4m0 1.8m0 11.7m0 2.6m0 3.2m0 3.5m0 13.1m0 47.5m0 1.5m0 10.2m0 16.2m0 1.2m0 5.9m3.7-189.6m0 30.5m0 0.3m0 0.3m0 0.2m0 0m0 2m0 4.4m0 3.8m0 9.8m0 0.9m0 16.2m0 1.8m0 12.3m0 11.6m0 0.4m0 25.1m0 1.2m0 2.6m0 6.6m0 5.5m0 24.3m0 46.2m3.8-204.7m0 1.4m0 1.6m0 2.9m0 16.6m0 14.4m0 0.7m0 2.5m0 24.9m0 0.9m0 1.8m0 0.2m0 3.2m0 7.4m0 4.3m0 4m0 0.5m0 4.1m0 25.3m0 9.9m0 29m0 37.8m0 2.2m3.8-177.9m0 14m0 3.4m0 0.5m0 3.2m0 7.1m0 7.9m0 0.4m0 6.4m0 1.7m0 5.6m0 2.9m0 3.5m0 2.8m0 6.1m0 3.5m0 2.9m0 6.8m0 3.9m0 28.8m0 9.7m0 15.2m0 24m3.7-143.4m0 3.9m0 1.1m0 3.1m0 13.8m0 7.3m0 0.6m0 8.4m0 8.9m0 8.4m0 4.6m0 4.2m0 3.7m0 15.3m0 2.6m0 1.4m0 2.9m0 15.3m0 1.8m0 4.8m0 26.4m0 1m0 23.3m3.8-179.4m0 2.3m0 24m0 6.2m0 0m0 2.5m0 0.3m0 3.1m0 0.5m0 1.5m0 6.1m0 5.6m0 0.3m0 5.5m0 2.3m0 7.2m0 2.9m0 7.7m0 5.6m0 27.9m0 21.8m0 58.2m0 8.2m3.7-189.5m0 5.1m0 15.1m0 1.4m0 1.2m0 2.7m0 2.7m0 0.9m0 4.7m0 3.4m0 2.2m0 0.9m0 7.2m0 10.3m0 5.9m0 8.5m0 21m0 1.5m0 1.8m0 7.6m0 12.4m0 2.6m0 27.5m3.8-147.3m0 4.2m0 21.3m0 0.2m0 1.6m0 0.1m0 1m0 3.3m0 3.6m0 9.1m0 0.7m0 17.5m0 12.6m0 1.2m0 0.3m0 1.7m0 1.3m0 3.3m0 15.5m0 2.1m0 2.9m0 5.4m0 44.6m3.8-149.6m0 12.6m0 3.4m0 12.1m0 9.5m0 20.3m0 2.2m0 0.5m0 0.8m0 2.7m0 3.1m0 9.2m0 8.2m0 2.5m0 3.3m0 7.4m0 6.5m0 1m0 0.2m0 11.1m0 11.3m0 34m0 1.5m3.7-152.7m0 4m0 18m0 0.4m0 1.4m0 0.2m0 0.7m0 1.7m0 0.2m0 23.5m0 0.5m0 0.8m0 17.1m0 0.9m0 6.9m0 4.5m0 1.3m0 18.3m0 0.3m0 8.6m0 26m0 13.7m0 14.9m3.8-170.1m0 32.7m0 1.6m0 0.2m0 0.2m0 0.2m0 0.1m0 1.3m0 6m0 8.7m0 6.4m0 2.6m0 0.7m0 0.3m0 23.7m0 2.5m0 19.1m0 10.3m0 2.3m0 7.8m0 29.3m0 0.1m0 10.8m3.7-127.9m0 0.2m0 1.9m0 3m0 3.4m0 5.4m0 0.4m0 0.3m0 0.8m0 2.3m0 3.6m0 9.1m0 3.7m0 0.9m0 2.1m0 26.1m0 9.8m0 12.2m0 2.5m0 5.3m0 2.5m0 28.9m0 15m3.8-158.8m0 12.8m0 10m0 0.2m0 0.1m0 0m0 0.1m0 0.2m0 2.7m0 2.5m0 12m0 6.4m0 3.5m0 6m0 1.4m0 3.5m0 23m0 0m0 20.6m0 14.8m0 17.2m0 5.4m0 2.4m3.8-133.6m0 1.4m0 14.7m0 0m0 8.3m0 2.3m0 7.5m0 6.2m0 9.3m0 6.1m0 3.4m0 11.3m0 0.5m0 1.2m0 5.7m0 0.2m0 13m0 2.6m0 33m0 9.3m0 1.2m0 0.3m0 14.3m3.7-143.2m0 1.7m0 3.6m0 6m0 0m0 0m0 1.3m0 3.2m0 6.3m0 3.6m0 0.9m0 8.1m0 2.4m0 13.2m0 4.7m0 4.4m0 1.8m0 12m0 0.5m0 17.4m0 6m0 3.5m0 20.8m3.8-137.9m0 4.3m0 9m0 9.9m0 8.5m0 0m0 1.4m0 1.1m0 1.8m0 8.6m0 5.8m0 0.8m0 0.2m0 0.6m0 5.3m0 4.1m0 9.7m0 0.5m0 1.4m0 1.5m0 13.3m0 6m0 67.8m3.7-154.8m0 10.1m0 17.6m0 1.1m0 0m0 0m0 0m0 0m0 2m0 4.8m0 1.9m0 3.7m0 5.7m0 4.3m0 8.9m0 4.9m0 1.2m0 2.3m0 9m0 1.2m0 8.2m0 2.7m0 45.7m3.8-135.5m0 6.7m0 4.8m0 3m0 18.2m0 0.1m0 2.7m0 1.7m0 0.8m0 1.5m0 5.1m0 1.8m0 5.1m0 5.4m0 10.4m0 3.8m0 6m0 10.6m0 3.3m0 2m0 6.7m0 37.7m0 3.6m3.8-105.4m0 0.4m0 0.1m0 0.1m0 3.3m0 0.4m0 2.4m0 3.1m0 0.8m0 12.5m0 0.1m0 1.4m0 1.2m0 7.7m0 1.3m0 5.8m0 9.6m0 6.9m0 17.9m0 5.9m0 20.9m0 4.2m0 15.4m3.7-145.1m0 12.7m0 5.1m0 9m0 1.6m0 0.1m0 1.3m0 13.1m0 3.2m0 0.5m0 2.4m0 0.8m0 1m0 1.6m0 7.5m0 4.3m0 1.9m0 6.5m0 2.6m0 5.9m0 1.3m0 33.6m0 5.8m3.8-112.2m0 4.8m0 14.4m0 4.5m0 3.9m0 3.4m0 9.1m0 1.2m0 0.3m0 2m0 2.1m0 2.2m0 12.1m0 1.5m0 7.3m0 5.7m0 3.7m0 1.7m0 6.3m0 2.4m0 7.9m0 4.8m0 11.1m3.7-94m0 0.3m0 5.8m0 0.3m0 1.7m0 3.1m0 1.2m0 5.2m0 7m0 1m0 4.2m0 2.5m0 1.8m0 1.5m0 1.3m0 12.6m0 0.6m0 1.1m0 3.3m0 9.7m0 0.4m0 10.1m0 9.9m3.8-97.7m0 23.7m0 0.6m0 7.7m0 5.5m0 0.6m0 1.7m0 1.5m0 2.2m0 8.3m0 11.7m0 0.4m0 6.1m0 1m0 1.3m0 2m0 0.2m0 7.9m0 5.1m0 10.7m0 0.2m0 11.5m0 0m3.8-95.2m0 9.3m0 0.7m0 0.4m0 0.1m0 1.2m0 0.7m0 1.1m0 4.6m0 2.1m0 1.2m0 4.9m0 2.2m0 2.6m0 0m0 4.9m0 0.5m0 0.8m0 4.1m0 6m0 9.3m0 6.4m0 22.1m3.7-100.7m0 30.8m0 2.6m0 0.9m0 3.6m0 2.8m0 4.9m0 1.8m0 5.8m0 4.1m0 2m0 2.2m0 0.9m0 5.3m0 1.5m0 4.2m0 4.7m0 0.1m0 0.8m0 7.7m0 3.2m0 6.8m0 18.7m3.8-104.1m0 13.8m0 2m0 1.3m0 4.3m0 1.6m0 6.9m0 2.6m0 3.9m0 1.8m0 0.8m0 6.3m0 2.7m0 0.5m0 6.1m0 5.6m0 5.2m0 1.8m0 4.8m0 7.3m0 18.6m0 0.5m0 3.4m3.8-104.8m0 4.3m0 21.3m0 0.9m0 0.2m0 3.5m0 0.7m0 0.6m0 0.4m0 1m0 0.2m0 11.6m0 7.2m0 0.7m0 0.4m0 5m0 6.9m0 8.8m0 13m0 0.6m0 2.4m0 4.4m0 30.2m3.7-117.9m0 24.6m0 1.7m0 4m0 1.8m0 2.8m0 0.7m0 1.3m0 2.5m0 1.3m0 1.3m0 1m0 0.6m0 17.9m0 2.9m0 6.9m0 0.7m0 8.7m0 6.4m0 14.8m0 0.7m0 7.1m0 6.9m3.8-103m0 11.9m0 2.4m0 0.7m0 2.9m0 1m0 3.2m0 0.4m0 1.7m0 1.4m0 1m0 0.5m0 0.5m0 2m0 0.4m0 2.1m0 12.5m0 1.1m0 6.8m0 2.3m0 0.9m0 6.2m0 26.6m3.7-87.3m0 0.5m0 13.2m0 1.2m0 1m0 1m0 0.7m0 2.1m0 0.4m0 0.3m0 7.8m0 0.1m0 2m0 0.9m0 10.9m0 2.1m0 9.6m0 7.2m0 8.5m0 13.8m0 2.2m0 4.7m0 11.7m3.8-100.6m0 14.5m0 0.1m0 0.1m0 4.2m0 4.9m0 2.5m0 3.4m0 0m0 0m0 0.1m0 0.7m0 4.6m0 6.2m0 0.1m0 7.7m0 5.3m0 2.1m0 1.7m0 20.8m0 1.4m0 0.9m0 2m3.8-76.1m0 0.3m0 9.2m0 6.1m0 0.7m0 2.3m0 7.4m0 2.1m0 0.3m0 0.3m0 2.8m0 7.1m0 0.8m0 3m0 2.4m0 4.6m0 2.2m0 9.6m0 5.8m0 2.3m0 3.2m0 5.9m0 7m3.7-100.6m0 21.5m0 9.3m0 0.4m0 2.1m0 3.8m0 0.5m0 0.7m0 1.8m0 3.2m0 0.7m0 3.5m0 8m0 6.7m0 1.1m0 5.5m0 6.8m0 6.1m0 5.1m0 3.3m0 2m0 2.6m0 3.2m3.8-77m0 10.4m0 3.5m0 1.7m0 3.7m0 2.4m0 1.8m0 0.2m0 1.4m0 2.2m0 5.8m0 11.1m0 0.1m0 0.8m0 1.5m0 0.1m0 3.6m0 1.9m0 6.9m0 3.2m0 9.8m0 4.1m0 4.3m3.7-84m0 0.8m0 0.7m0 3.9m0 17.4m0 0m0 1.4m0 0.2m0 0.2m0 3.7m0 0.2m0 0.5m0 0.9m0 0.9m0 2m0 6.3m0 0.4m0 0.9m0 4m0 7.1m0 3.8m0 23.9m0 13.8m3.8-100.1m0 4.7m0 10.3m0 4.8m0 5m0 0.3m0 1.4m0 0.4m0 1.3m0 1.6m0 0.9m0 3.2m0 0.2m0 5.6m0 0.5m0 8.2m0 1m0 0.5m0 1.1m0 2.1m0 0.3m0 0.4m0 2.7m3.8-40.6m0 13.6m0 0.2m0 0.2m0 5.3m0 0.4m0 1.5m0 0.3m0 0.3m0 3.1m0 0.3m0 2.3m0 4.4m0 5.2m0 5.4m0 6m0 7.5m0 2.2m0 14.6m0 0.8m0 3.2m0 2.2m0 2.6m3.7-68.7m0 0.8m0 6.4m0 0.8m0 0.4m0 5.1m0 0m0 1.8m0 1.1m0 7.7m0 0m0 0.9m0 1.1m0 0.9m0 0m0 3.6m0 1.5m0 0.9m0 0.6m0 5.4m0 19.5m0 0.5m0 12.4m3.8-85.3m0 18.2m0 1m0 3m0 1.4m0 0.4m0 0.3m0 0.1m0 0.4m0 0m0 2.8m0 2m0 0m0 8.3m0 1.6m0 5.8m0 0.6m0 5.1m0 5.8m0 1.3m0 2m0 7.7m0 3.6m3.7-64.5m0 10.5m0 1.2m0 0.7m0 2.8m0 1.8m0 2.4m0 0.3m0 0.9m0 0.5m0 1.1m0 0.6m0 1.8m0 3.5m0 3.1m0 0.6m0 2.9m0 9.1m0 0.2m0 0.7m0 1.3m0 22.5m0 1.1m3.8-57.2m0 2.8m0 2.1m0 4m0 2.4m0 0.3m0 0.7m0 2m0 1.5m0 2.9m0 0.8m0 0.4m0 4.2m0 0.4m0 2.2m0 0.9m0 4.9m0 0.7m0 17.6m0 4.3m0 3.1m0 2.2m0 6.5m3.8-76.6m0 2.5m0 15.2m0 1.9m0 0.7m0 0.3m0 0.2m0 2.5m0 1m0 1.1m0 1.4m0 4.4m0 0.7m0 3.5m0 1.4m0 0.4m0 0.2m0 1m0 2.5m0 7.7m0 9.4m0 5.6m0 8.2m3.7-72.1m0 7.4m0 7.6m0 0.9m0 2.4m0 2m0 0.4m0 2.8m0 0.8m0 2.9m0 1m0 1.9m0 2.8m0 0.1m0 3.5m0 4.1m0 10.6m0 6.2m0 0.1m0 3.5m0 0.7m0 5.2m0 1m3.8-72.9m0 4.3m0 8m0 11.2m0 2.4m0 0m0 2.3m0 1.6m0 0.4m0 0.1m0 0.2m0 2.1m0 0.1m0 0.3m0 1.7m0 0.1m0 11.4m0 1.4m0 10.2m0 0.1m0 10m0 0.8m0 3.9m3.7-59.2m0 6.9m0 1.9m0 1.7m0 0.3m0 0.2m0 0.4m0 0.3m0 5m0 0.6m0 2.4m0 1m0 0.2m0 0.5m0 8.1m0 0.1m0 0.1m0 5.5m0 5.2m0 8m0 5.7m0 5m0 1.5m3.8-64.2m0 14.6m0 0.5m0 1.7m0 2.2m0 1.1m0 0.3m0 0.4m0 0.5m0 0.7m0 0.1m0 1.4m0 3.7m0 5m0 0.7m0 3.1m0 1m0 1.9m0 7.8m0 15.5m0 1.5m0 1.9m0 1m3.8-48.8m0 3.2m0 0.4m0 0.7m0 0.3m0 0.4m0 0.2m0 0.8m0 0.2m0 0m0 0.1m0 0.7m0 1.1m0 0m0 0.5m0 1.4m0 5.5m0 2.6m0 1.2m0 1.2m0 2.9m0 12.7m0 3.6m3.7-53.4m0 5m0 6.9m0 0.1m0 1m0 0.5m0 4.4m0 0.3m0 0.6m0 1.1m0 0.4m0 1.2m0 1m0 0.3m0 0.2m0 0m0 1m0 9.3m0 1.5m0 4.4m0 19.2m0 0.7m0 9m3.8-66.4m0 8.1m0 1.5m0 4.2m0 1m0 0.4m0 0m0 0.6m0 1.1m0 0.4m0 0.2m0 0.8m0 0.5m0 0.1m0 0.9m0 0.8m0 1.4m0 0.3m0 4.1m0 1.9m0 8.5m0 18.3m0 10.3m3.8-69.3m0 0m0 18.4m0 1.9m0 0.4m0 0.2m0 2m0 1.3m0 0.7m0 0.2m0 0m0 0.1m0 0.2m0 1.7m0 3.9m0 1.9m0 0.7m0 5.2m0 0.1m0 5.7m0 4m0 3.8m0 7.7m3.7-40m0 2m0 0m0 0.1m0 0.5m0 0.3m0 0.3m0 1.1m0 0.9m0 0.2m0 0.7m0 0.2m0 1.4m0 1.6m0 1.3m0 8.9m0 0.6m0 0.8m0 4.1m0 4.2m0 2.1m0 0.3m0 5.1m3.8-48.9m0 7.8m0 4.1m0 0m0 0.1m0 2.6m0 0.4m0 1.3m0 0.5m0 0.2m0 0.2m0 0.2m0 2.4m0 0m0 1.1m0 0.1m0 2.5m0 3.1m0 4.6m0 1.1m0 21m0 2.2m0 2.3m3.7-49.4m0 3.7m0 1.1m0 0.9m0 3.5m0 0.5m0 0.6m0 0.5m0 0.2m0 1.4m0 0.4m0 1.7m0 0.3m0 0.5m0 1.4m0 14.5m0 4.5m0 9.8m0 1.1m0 0.8m0 0.2m0 1.9m0 1.8m3.8-53.7m0 6.6m0 0.2m0 0.8m0 0.4m0 2.1m0 1.6m0 1.2m0 0.9m0 3m0 0.6m0 2.1m0 2.5m0 1.8m0 3.5m0 0.8m0 0.1m0 9.8m0 2.2m0 1m0 5m0 6.2m0 4.7m3.8-60.8m0 10.1m0 3.6m0 3.6m0 0.1m0 1.1m0 0.8m0 0.2m0 0.5m0 0.4m0 0.1m0 3.4m0 0.2m0 1.2m0 0.9m0 4.5m0 13.9m0 0.1m0 5.8m0 0.2m0 0.5m0 4.7m0 4.1m3.7-59.8m0 9.9m0 3m0 1m0 2.7m0 0.1m0 0.1m0 1m0 0m0 1.2m0 0.5m0 2.5m0 0.3m0 4.5m0 0m0 0.5m0 0.9m0 2.6m0 0.3m0 1.9m0 0.6m0 6.2m0 15.8m3.8-48m0 3.6m0 0.7m0 3.6m0 1.5m0 1.2m0 3m0 0.3m0 0.8m0 1.4m0 1.8m0 0.8m0 2.1m0 3.6m0 1.5m0 5.9m0 8.4m0 0m0 2.9m0 0.4m0 0.4m0 1.2m0 7.7m3.7-59.9m0 2.9m0 1.3m0 2.9m0 0.4m0 0.6m0 5m0 0.1m0 0.1m0 0.9m0 0.3m0 1.9m0 2.8m0 1.5m0 0.1m0 0.2m0 5.6m0 4.4m0 1.3m0 7.8m0 0.6m0 4.2m0 4.9m3.8-46.7m0 3.2m0 0.2m0 8.2m0 2.2m0 1.6m0 2.7m0 0.2m0 0.1m0 1.1m0 0.2m0 1m0 5.2m0 3.2m0 0.3m0 0.6m0 2m0 0.8m0 0.9m0 10.9m0 10m0 0.6m0 1.5m3.8-54.6m0 6.9m0 0.1m0 3.1m0 0m0 1.8m0 0.5m0 2.1m0 1.8m0 0.8m0 0.3m0 1m0 3.3m0 0.9m0 3.4m0 2.4m0 0.3m0 0.4m0 0.8m0 8.1m0 7.9m0 0.1m0 7.5m3.7-55.2m0 11.2m0 2.3m0 3.4m0 0.2m0 0.8m0 0.5m0 0.4m0 0.9m0 0.1m0 1.2m0 2.3m0 1m0 2.4m0 3.1m0 7.3m0 1.2m0 1.7m0 1.7m0 3.5m0 1.3m0 2.1m0 3.6m3.8-46.3m0 4.9m0 0.8m0 7.7m0 0.3m0 0.5m0 0.1m0 1.1m0 0.8m0 0.1m0 0.1m0 2.5m0 0.2m0 0.3m0 4.2m0 1.3m0 3.4m0 0.3m0 0.6m0 4.3m0 1m0 6.9m0 10.4m3.7-55.6m0 1.9m0 5.4m0 1.2m0 0.5m0 0.8m0 0.2m0 1.6m0 0.9m0 0.3m0 4.2m0 1.3m0 0.4m0 0.3m0 5.1m0 1.9m0 0.8m0 3.2m0 0.3m0 1.3m0 6.3m0 1.7m0 2.7m3.8-38.4m0 1.2m0 4.9m0 3.3m0 0m0 1.5m0 1m0 0.4m0 0.1m0 0m0 1.3m0 0.5m0 0.7m0 0.3m0 3.3m0 2.9m0 1m0 1.5m0 2.6m0 4.3m0 4.4m0 2.9m0 1.1m3.8-40.7m0 5.5m0 3.1m0 0.5m0 0.8m0 0.7m0 0.1m0 0.2m0 1.1m0 1.1m0 0.5m0 3.3m0 0.7m0 1.3m0 0.3m0 9.1m0 0.7m0 1m0 4.6m0 3.4m0 3.5m0 2.9m0 4.5m3.7-49.3m0 7.5m0 0.8m0 1.8m0 3m0 1.2m0 0.1m0 0.7m0 1.6m0 5.2m0 1.9m0 0.4m0 3m0 0.5m0 0.2m0 6.1m0 1.9m0 0.7m0 1m0 2.8m0 0.3m0 6.9m0 3.5m3.8-50.3m0 4.7m0 3.5m0 1.7m0 2.1m0 0.2m0 0m0 0m0 1m0 1.5m0 2m0 2m0 0.9m0 0.4m0 0.1m0 0.1m0 2.6m0 0m0 4.9m0 4.7m0 0.1m0 7m0 2.1m3.7-37.5m0 2.4m0 0.7m0 0.3m0 0.7m0 0.9m0 0.8m0 3.4m0 0.7m0 1.4m0 1.2m0 1m0 0m0 1.7m0 1.8m0 0.8m0 1.3m0 2m0 1.3m0 0.7m0 1.1m0 3.6m0 0.8m3.8-23.7m0 0.5m0 0.4m0 2.2m0 0.1m0 1.1m0 0.2m0 0.9m0 0.4m0 1.5m0 1.9m0 0.3m0 4.8m0 0.6m0 2.4m0 1.4m0 1.5m0 0.5m0 4.7m0 1.5m0 2.7m0 3.4m0 2.7m3.8-42.8m0 4.5m0 1.7m0 1.4m0 0.1m0 0.7m0 0.1m0 0.1m0 0.6m0 2.8m0 1.2m0 2.3m0 0.7m0 0.3m0 2.8m0 5.4m0 2.1m0 1.1m0 0.5m0 5.8m0 1.5m0 0.9m0 8.6m3.7-38.7m0 0.4m0 1m0 3.2m0 0.8m0 0.4m0 0.4m0 0.5m0 1.9m0 0.1m0 0.5m0 0m0 0.5m0 2.5m0 3.3m0 3.4m0 0m0 1.5m0 0.2m0 0.2m0 1.2m0 4m0 4.2m3.8-28.4m0 1.4m0 0.7m0 1.3m0 0.9m0 1.2m0 1.1m0 0.3m0 0.1m0 1m0 0.9m0 2.5m0 2.2m0 1.7m0 0m0 0.3m0 3.3m0 0.3m0 0.4m0 0.2m0 8.9m0 0.1m0 2m3.8-40.8m0 3.6m0 4m0 0.4m0 3.1m0 1.1m0 0.3m0 0.9m0 1.1m0 1.6m0 0.4m0 0.9m0 0m0 1.6m0 0.1m0 2.2m0 3.2m0 4.6m0 1.9m0 1m0 2.1m0 0.1m0 6.7m3.7-39.5m0 1.9m0 2.8m0 2.6m0 1.2m0 1.4m0 1.9m0 0m0 1.5m0 4.5m0 1m0 0.9m0 4.6m0 3m0 0.2m0 0.5m0 1.2m0 0.1m0 2.6m0 0.5m0 0m0 0.3m0 3m3.8-29.6m0 1.2m0 1.3m0 0.8m0 3.2m0 1.4m0 1.7m0 1.4m0 0.2m0 3.8m0 0.9m0 2.3m0 0.6m0 2.2m0 0.1m0 1.7m0 1.1m0 1.7m0 4.2m0 2.1m0 2.2m0 0.5m0 6.5m3.7-46.9m0 1.5m0 5.2m0 3.7m0 0m0 0.4m0 1.8m0 3.1m0 0.3m0 2.1m0 1.6m0 0m0 1.5m0 0.5m0 2.8m0 0.4m0 3.6m0 0.9m0 0.4m0 3.5m0 0.9m0 0.6m0 8.5m3.8-42.4m0 9.3m0 2.7m0 0.2m0 1.9m0 1.1m0 1.7m0 2.6m0 1.1m0 0.8m0 1.2m0 0.8m0 0.3m0 0.6m0 0.1m0 2.3m0 0.1m0 0.9m0 0.9m0 1.5m0 6.4m0 6.9m0 2.9m3.8-42.9m0 5.5m0 2.4m0 0.9m0 1.8m0 1.3m0 0.1m0 0.8m0 1.6m0 2.6m0 0.5m0 0.2m0 1.2m0 0.1m0 2.2m0 0.9m0 0.5m0 1.1m0 2.5m0 1.6m0 1.7m0 2.4m0 3.8m3.7-33.5m0 1.4m0 0.8m0 1.3m0 0.2m0 1.6m0 1.4m0 0.6m0 2.5m0 3.2m0 1.8m0 0m0 1.4m0 4.4m0 0.6m0 0.6m0 0.4m0 0m0 1.4m0 1.8m0 0.5m0 8.4m0 10.8m3.8-46.4m0 1.5m0 0.2m0 1.7m0 2.6m0 1.7m0 0.3m0 0.2m0 1.1m0 0.8m0 0.6m0 1.9m0 0.6m0 2.7m0 1.1m0 0.4m0 1.5m0 1m0 0.5m0 0.6m0 5.5m0 1.8m0 3.4m3.7-37.4m0 3.9m0 5.1m0 3m0 3.4m0 0.6m0 1.2m0 0.1m0 0.5m0 2.6m0 0.3m0 5.7m0 0.1m0 1.2m0 1.1m0 2.5m0 2.2m0 3.5m0 1.8m0 0m0 4.4m0 0.7m0 0.2m3.8-40.7m0 3.9m0 2.1m0 2.1m0 0.9m0 1.8m0 0.9m0 0.4m0 0.4m0 2.1m0 0.7m0 1.1m0 0.7m0 0.6m0 2.2m0 0m0 1.9m0 4.5m0 0.6m0 5.3m0 0.3m0 1.1m0 7.6m3.8-43.7m0 10.7m0 2.1m0 0.4m0 1.2m0 1.5m0 1.5m0 0m0 0.4m0 1m0 0.4m0 0.9m0 0.1m0 0m0 0.9m0 0.6m0 0m0 0.1m0 2m0 3.1m0 1.7m0 3m0 16.5m3.7-42.3m0 0.4m0 3.5m0 0.6m0 0.4m0 0.2m0 3.2m0 1.5m0 0.2m0 3.1m0 3m0 2.5m0 0.7m0 2.9m0 0.4m0 2.3m0 1.1m0 0.8m0 2.6m0 3m0 0m0 4.4m0 0.2m3.8-43m0 0.3m0 1.2m0 1.1m0 1.4m0 7.7m0 4.6m0 1.1m0 1.9m0 0.1m0 1m0 0.1m0 0.5m0 4m0 1.1m0 7.8m0 0.5m0 1.1m0 0.1m0 0.8m0 0.2m0 0.5m0 10.3m3.7-41.5m0 1.5m0 0.2m0 1.8m0 0.7m0 0.7m0 2.2m0 0.5m0 0.2m0 3.4m0 4m0 2.7m0 1.8m0 2.7m0 0.8m0 0.1m0 0.1m0 0.5m0 4.4m0 5m0 1.4m0 2.3m0 2.8" fill="none" stroke="none" marker-start="url(#s)" marker-mid="url(#s)" marker-end="url(#s)"/>
<path d="M95.6 666.6l7.8 15.6h-15.6zM91.4 686.9l7.8 15.6h-15.6zM105.7 696.2l7.8 15.6h-15.6zM113.0 666.6l7.8 15.6h-15.6zM124.3 675.9l7.8 15.6h-15.6zM128.6 693.7l7.8 15.6h-15.6zM132.8 666.6l7.8 15.6h-15.6zM140.4 658.2l7.8 15.6h-15.6zM147.2 656.5l7.8 15.6h-15.6zM154.8 648.1l7.8 15.6h-15.6zM151.4 683.5l7.8 15.6h-15.6zM164.1 663.3l7.8 15.6h-15.6zM174.2 649.7l7.8 15.6h-15.6zM180.1 657.3l7.8 15.6h-15.6zM185.2 643.8l7.8 15.6h-15.6zM196.2 634.5l7.8 15.6h-15.6zM191.1 671.7l7.8 15.6h-15.6zM203.8 660.7l7.8 15.6h-15.6zM208.0 638.8l7.8 15.6h-15.6zM211.4 668.3l7.8 15.6h-15.6zM213.9 617.6l7.8 15.6h-15.6zM219.0 615.9l7.8 15.6h-15.6zM223.2 628.6l7.8 15.6h-15.6zM226.6 638.8l7.8 15.6h-15.6zM230.0 645.5l7.8 15.6h-15.6zM237.6 599.9l7.8 15.6h-15.6zM245.2 632.8l7.8 15.6h-15.6zM252.8 607.5l7.8 15.6h-15.6zM260.4 599.0l7.8 15.6h-15.6zM265.5 632.0l7.8 15.6h-15.6zM271.4 582.1l7.8 15.6h-15.6zM278.2 632.8l7.8 15.6h-15.6zM282.4 649.7l7.8 15.6h-15.6zM293.4 565.8l7.8 15.6h-15.6zM290.0 585.2l7.8 15.6h-15.6zM323.8 555.6l7.8 15.6h-15.6zM339.0 565.8l7.8 15.6h-15.6zM334.8 587.3l7.8 15.6h-15.6zM306.9 588.6l7.8 15.6h-15.6zM316.2 587.8l7.8 15.6h-15.6zM354.2 538.7l7.8 15.6h-15.6zM345.8 548.0l7.8 15.6h-15.6zM365.2 546.3l7.8 15.6h-15.6zM361.8 517.6l7.8 15.6h-15.6zM372.8 488.0l7.8 15.6h-15.6zM377.0 499.0l7.8 15.6h-15.6zM380.4 457.6l7.8 15.6h-15.6zM388.0 456.8l7.8 15.6h-15.6zM383.8 470.3l7.8 15.6h-15.6zM398.2 469.4l7.8 15.6h-15.6zM418.4 489.7l7.8 15.6h-15.6zM440.4 498.2l7.8 15.6h-15.6zM437.0 537.9l7.8 15.6h-15.6zM463.2 472.0l7.8 15.6h-15.6zM421.8 585.2l7.8 15.6h-15.6zM459.8 616.6l7.8 15.6h-15.6zM526.6 617.5l7.8 15.6h-15.6zM601.8 576.1l7.8 15.6h-15.6zM406.9 401.3l7.8 15.6h-15.6zM413.6 411.4l7.8 15.6h-15.6zM402.7 432.5l7.8 15.6h-15.6zM411.1 439.3l7.8 15.6h-15.6zM395.9 446.9l7.8 15.6h-15.6zM444.1 399.6l7.8 15.6h-15.6zM452.5 397.9l7.8 15.6h-15.6zM448.3 441.0l7.8 15.6h-15.6zM466.9 435.9l7.8 15.6h-15.6zM455.9 352.3l7.8 15.6h-15.6zM471.1 341.3l7.8 15.6h-15.6zM477.9 337.0l7.8 15.6h-15.6zM475.3 346.3l7.8 15.6h-15.6zM486.3 404.7l7.8 15.6h-15.6zM500.7 431.7l7.8 15.6h-15.6zM504.9 367.5l7.8 15.6h-15.6zM511.7 384.4l7.8 15.6h-15.6zM522.7 376.8l7.8 15.6h-15.6zM536.2 404.7l7.8 15.6h-15.6zM530.3 422.4l7.8 15.6h-15.6zM546.3 424.9l7.8 15.6h-15.6zM550.6 409.7l7.8 15.6h-15.6zM557.3 408.0l7.8 15.6h-15.6zM564.1 419.9l7.8 15.6h-15.6zM493.1 458.7l7.8 15.6h-15.6zM586.9 443.7l7.8 15.6h-15.6zM569.1 469.0l7.8 15.6h-15.6zM561.5 545.9l7.8 15.6h-15.6zM545.0 482.0l7.8 15.6h-15.6zM575.9 272.6l7.8 15.6h-15.6zM598.7 265.8l7.8 15.6h-15.6zM629.1 279.4l7.8 15.6h-15.6zM613.9 290.4l7.8 15.6h-15.6zM651.1 288.7l7.8 15.6h-15.6zM595.3 307.3l7.8 15.6h-15.6zM571.7 336.0l7.8 15.6h-15.6zM580.1 350.4l7.8 15.6h-15.6zM620.7 330.9l7.8 15.6h-15.6zM633.4 336.8l7.8 15.6h-15.6zM648.6 323.3l7.8 15.6h-15.6zM718.7 304.7l7.8 15.6h-15.6zM707.7 363.0l7.8 15.6h-15.6zM746.6 268.4l7.8 15.6h-15.6zM669.7 124.4l7.8 15.6h-15.6zM678.2 134.5l7.8 15.6h-15.6zM666.3 149.7l7.8 15.6h-15.6zM700.1 135.4l7.8 15.6h-15.6zM722.1 103.2l7.8 15.6h-15.6zM733.9 109.7l7.8 15.6h-15.6zM729.7 126.1l7.8 15.6h-15.6zM715.3 150.6l7.8 15.6h-15.6zM727.2 147.2l7.8 15.6h-15.6zM744.9 149.7l7.8 15.6h-15.6zM695.9 162.4l7.8 15.6h-15.6zM738.2 167.5l7.8 15.6h-15.6zM703.5 179.3l7.8 15.6h-15.6zM712.0 184.4l7.8 15.6h-15.6zM673.9 189.4l7.8 15.6h-15.6zM684.9 199.6l7.8 15.6h-15.6zM640.1 169.2l7.8 15.6h-15.6zM635.9 187.8l7.8 15.6h-15.6zM624.9 201.3l7.8 15.6h-15.6zM643.5 204.7l7.8 15.6h-15.6zM609.7 209.7l7.8 15.6h-15.6zM583.5 222.4l7.8 15.6h-15.6zM591.1 232.5l7.8 15.6h-15.6zM618.1 222.4l7.8 15.6h-15.6zM655.3 214.0l7.8 15.6h-15.6zM661.3 229.2l7.8 15.6h-15.6zM680.7 218.2l7.8 15.6h-15.6zM689.1 238.5l7.8 15.6h-15.6zM693.4 251.1l7.8 15.6h-15.6zM606.3 247.8l7.8 15.6h-15.6zM742.4 219.9l7.8 15.6h-15.6zM816.7 89.4l7.8 15.6h-15.6zM778.7 111.3l7.8 15.6h-15.6zM771.9 128.2l7.8 15.6h-15.6zM782.9 131.6l7.8 15.6h-15.6zM753.4 154.4l7.8 15.6h-15.6zM755.9 161.2l7.8 15.6h-15.6zM767.7 165.4l7.8 15.6h-15.6zM763.5 198.4l7.8 15.6h-15.6zM760.1 215.3l7.8 15.6h-15.6zM807.4 215.3l7.8 15.6h-15.6zM821.0 184.9l7.8 15.6h-15.6zM838.7 162.9l7.8 15.6h-15.6zM846.3 174.7l7.8 15.6h-15.6zM844.6 179.8l7.8 15.6h-15.6zM862.4 164.6l7.8 15.6h-15.6zM858.2 194.2l7.8 15.6h-15.6zM870.0 198.4l7.8 15.6h-15.6zM851.4 212.8l7.8 15.6h-15.6zM827.7 220.4l7.8 15.6h-15.6zM887.7 179.8l7.8 15.6h-15.6zM899.6 195.0l7.8 15.6h-15.6zM911.4 187.4l7.8 15.6h-15.6zM897.0 206.8l7.8 15.6h-15.6zM853.9 234.4l7.8 15.6h-15.6zM872.5 253.0l7.8 15.6h-15.6zM892.0 258.0l7.8 15.6h-15.6zM921.5 248.7l7.8 15.6h-15.6zM906.3 271.6l7.8 15.6h-15.6zM914.8 274.9l7.8 15.6h-15.6zM926.6 274.1l7.8 15.6h-15.6zM749.1 266.5l7.8 15.6h-15.6zM832.0 275.8l7.8 15.6h-15.6zM812.5 287.6l7.8 15.6h-15.6zM876.7 289.3l7.8 15.6h-15.6zM790.5 307.1l7.8 15.6h-15.6zM787.2 322.3l7.8 15.6h-15.6zM823.5 329.9l7.8 15.6h-15.6zM924.9 310.4l7.8 15.6h-15.6zM918.2 345.1l7.8 15.6h-15.6zM885.2 356.9l7.8 15.6h-15.6zM793.9 359.5l7.8 15.6h-15.6zM799.0 361.1l7.8 15.6h-15.6zM775.3 374.2l7.8 15.6h-15.6zM802.4 378.5l7.8 15.6h-15.6zM865.8 375.9l7.8 15.6h-15.6zM881.0 411.4l7.8 15.6h-15.6zM903.8 201.3l7.8 15.6h-15.6zM951.9 225.8l7.8 15.6h-15.6zM944.3 259.6l7.8 15.6h-15.6zM930.0 270.6l7.8 15.6h-15.6zM936.7 279.0l7.8 15.6h-15.6zM956.2 287.5l7.8 15.6h-15.6zM948.6 292.5l7.8 15.6h-15.6zM971.4 276.5l7.8 15.6h-15.6zM996.7 274.8l7.8 15.6h-15.6zM963.8 303.5l7.8 15.6h-15.6zM979.0 302.7l7.8 15.6h-15.6zM985.8 306.9l7.8 15.6h-15.6zM1005.2 298.5l7.8 15.6h-15.6zM1012.0 317.1l7.8 15.6h-15.6zM1028.0 319.6l7.8 15.6h-15.6zM941.0 332.7l7.8 15.6h-15.6zM960.4 338.7l7.8 15.6h-15.6zM990.0 337.0l7.8 15.6h-15.6zM994.2 353.0l7.8 15.6h-15.6zM1019.6 346.3l7.8 15.6h-15.6zM1023.8 354.7l7.8 15.6h-15.6zM1031.4 380.1l7.8 15.6h-15.6zM1045.8 378.4l7.8 15.6h-15.6zM1061.0 393.6l7.8 15.6h-15.6zM1050.0 407.1l7.8 15.6h-15.6zM1016.2 425.7l7.8 15.6h-15.6zM1043.2 426.6l7.8 15.6h-15.6zM1034.8 440.9l7.8 15.6h-15.6zM1009.4 446.0l7.8 15.6h-15.6zM1068.6 435.0l7.8 15.6h-15.6zM975.6 429.9l7.8 15.6h-15.6zM967.2 443.5l7.8 15.6h-15.6zM1104.9 460.4l7.8 15.6h-15.6zM1091.4 463.7l7.8 15.6h-15.6zM933.4 540.3l7.8 15.6h-15.6zM1001.0 497.2l7.8 15.6h-15.6zM1057.6 486.2l7.8 15.6h-15.6zM1083.8 478.6l7.8 15.6h-15.6zM1101.5 482.8l7.8 15.6h-15.6zM1088.0 497.2l7.8 15.6h-15.6zM1072.8 514.1l7.8 15.6h-15.6zM1079.6 525.9l7.8 15.6h-15.6zM1065.2 534.4l7.8 15.6h-15.6zM1094.8 555.5l7.8 15.6h-15.6zM1076.2 562.3l7.8 15.6h-15.6zM1039.0 572.4l7.8 15.6h-15.6zM1054.2 588.5l7.8 15.6h-15.6zM1099.0 602.0l7.8 15.6h-15.6zM1105.8 588.5l7.8 15.6h-15.6zM1121.8 478.9l7.8 15.6h-15.6zM1132.8 479.7l7.8 15.6h-15.6zM1143.8 488.2l7.8 15.6h-15.6zM1148.0 505.1l7.8 15.6h-15.6zM1151.4 509.3l7.8 15.6h-15.6zM1140.4 522.8l7.8 15.6h-15.6zM1128.6 532.1l7.8 15.6h-15.6zM1137.0 534.7l7.8 15.6h-15.6zM1162.4 535.5l7.8 15.6h-15.6zM1174.2 532.1l7.8 15.6h-15.6zM1181.8 517.8l7.8 15.6h-15.6zM1178.4 523.7l7.8 15.6h-15.6zM1185.2 542.3l7.8 15.6h-15.6zM1159.8 546.5l7.8 15.6h-15.6zM1167.4 546.5l7.8 15.6h-15.6zM1188.6 554.9l7.8 15.6h-15.6zM1201.3 555.8l7.8 15.6h-15.6zM1192.8 558.3l7.8 15.6h-15.6zM1212.2 560.9l7.8 15.6h-15.6zM1218.2 564.2l7.8 15.6h-15.6zM1154.8 573.5l7.8 15.6h-15.6zM1230.8 584.5l7.8 15.6h-15.6zM1110.0 585.4l7.8 15.6h-15.6zM1117.6 592.1l7.8 15.6h-15.6zM1125.2 591.3l7.8 15.6h-15.6zM1113.4 620.9l7.8 15.6h-15.6zM1170.0 593.0l7.8 15.6h-15.6zM1197.9 608.2l7.8 15.6h-15.6zM1207.2 602.3l7.8 15.6h-15.6zM1223.2 620.0l7.8 15.6h-15.6zM1226.6 600.6l7.8 15.6h-15.6zM1232.5 603.9l7.8 15.6h-15.6zM1241.0 605.6l7.8 15.6h-15.6zM1246.0 624.2l7.8 15.6h-15.6zM1263.8 615.8l7.8 15.6h-15.6zM1275.6 620.9l7.8 15.6h-15.6zM1258.7 631.0l7.8 15.6h-15.6zM1272.2 637.8l7.8 15.6h-15.6zM1268.0 647.1l7.8 15.6h-15.6zM1252.8 656.3l7.8 15.6h-15.6zM1249.4 686.8l7.8 15.6h-15.6zM1284.9 641.1l7.8 15.6h-15.6zM1295.0 673.3l7.8 15.6h-15.6zM1298.4 685.1l7.8 15.6h-15.6zM1301.8 679.2l7.8 15.6h-15.6zM1306.9 652.1l7.8 15.6h-15.6zM1312.8 647.1l7.8 15.6h-15.6zM1324.6 658.9l7.8 15.6h-15.6zM1327.2 667.3l7.8 15.6h-15.6zM1317.9 680.9l7.8 15.6h-15.6zM1320.4 687.6l7.8 15.6h-15.6zM1332.2 680.0l7.8 15.6h-15.6zM1339.0 649.6l7.8 15.6h-15.6zM1344.1 653.0l7.8 15.6h-15.6zM1347.4 686.8l7.8 15.6h-15.6zM1350.8 688.5l7.8 15.6h-15.6zM1356.7 660.6l7.8 15.6h-15.6zM1361.0 666.5l7.8 15.6h-15.6zM1369.4 660.6l7.8 15.6h-15.6zM1366.0 691.0l7.8 15.6h-15.6zM1374.5 676.6l7.8 15.6h-15.6zM1384.6 671.6l7.8 15.6h-15.6zM1380.4 688.5l7.8 15.6h-15.6zM1392.2 669.0l7.8 15.6h-15.6zM1396.5 690.2l7.8 15.6h-15.6zM1399.8 656.3l7.8 15.6h-15.6zM1404.1 676.6l7.8 15.6h-15.6zM1413.4 658.0l7.8 15.6h-15.6zM1421.8 649.6l7.8 15.6h-15.6zM1417.6 666.5l7.8 15.6h-15.6zM1432.0 661.4l7.8 15.6h-15.6zM1437.0 664.8l7.8 15.6h-15.6zM1450.6 666.5l7.8 15.6h-15.6zM1457.3 680.0l7.8 15.6h-15.6zM496.7 463.7l7.8 15.6h-15.6zM507.7 476.3l7.8 15.6h-15.6zM520.4 491.6l7.8 15.6h-15.6zM481.5 522.0l7.8 15.6h-15.6zM490.0 536.3l7.8 15.6h-15.6zM516.2 541.4l7.8 15.6h-15.6zM319.6 593.8l7.8 15.6h-15.6zM285.7 609.9l7.8 15.6h-15.6zM301.8 608.2l7.8 15.6h-15.6zM332.2 603.9l7.8 15.6h-15.6zM343.2 609.9l7.8 15.6h-15.6zM369.4 614.9l7.8 15.6h-15.6zM432.8 603.9l7.8 15.6h-15.6zM429.4 620.0l7.8 15.6h-15.6zM459.9 615.8l7.8 15.6h-15.6zM308.6 635.2l7.8 15.6h-15.6zM328.0 636.9l7.8 15.6h-15.6zM297.6 650.4l7.8 15.6h-15.6zM426.0 648.7l7.8 15.6h-15.6zM98.5 681.4l7.8 15.6h-15.6zM102.3 679.7l7.8 15.6h-15.6zM109.8 682.9l7.8 15.6h-15.6zM117.3 676.3l7.8 15.6h-15.6zM121.1 673.8l7.8 15.6h-15.6zM136.1 668.0l7.8 15.6h-15.6zM143.7 657.0l7.8 15.6h-15.6zM158.7 648.1l7.8 15.6h-15.6zM166.2 659.3l7.8 15.6h-15.6zM170.0 660.0l7.8 15.6h-15.6zM177.5 650.7l7.8 15.6h-15.6zM188.8 655.7l7.8 15.6h-15.6zM200.1 647.0l7.8 15.6h-15.6zM233.9 627.9l7.8 15.6h-15.6zM241.4 616.5l7.8 15.6h-15.6zM249.0 616.2l7.8 15.6h-15.6zM256.5 610.8l7.8 15.6h-15.6zM267.8 609.6l7.8 15.6h-15.6zM275.3 618.2l7.8 15.6h-15.6zM312.9 618.8l7.8 15.6h-15.6zM350.5 553.7l7.8 15.6h-15.6zM358.0 529.5l7.8 15.6h-15.6zM391.9 459.0l7.8 15.6h-15.6zM538.5 435.7l7.8 15.6h-15.6zM542.3 436.3l7.8 15.6h-15.6zM553.6 409.9l7.8 15.6h-15.6zM658.9 235.8l7.8 15.6h-15.6zM809.3 254.5l7.8 15.6h-15.6zM835.6 219.6l7.8 15.6h-15.6zM982.3 304.2l7.8 15.6h-15.6zM1204.2 587.7l7.8 15.6h-15.6zM1215.5 565.2l7.8 15.6h-15.6zM1238.1 610.3l7.8 15.6h-15.6zM1260.6 628.0l7.8 15.6h-15.6zM1279.4 625.0l7.8 15.6h-15.6zM1286.9 661.8l7.8 15.6h-15.6zM1290.7 657.4l7.8 15.6h-15.6zM1309.5 644.6l7.8 15.6h-15.6zM1335.8 668.1l7.8 15.6h-15.6zM1354.6 675.2l7.8 15.6h-15.6zM1377.2 681.9l7.8 15.6h-15.6zM1388.5 669.9l7.8 15.6h-15.6zM1407.3 674.2l7.8 15.6h-15.6zM1411.1 666.9l7.8 15.6h-15.6zM1426.1 647.8l7.8 15.6h-15.6zM1429.9 664.2l7.8 15.6h-15.6zM1441.1 660.8l7.8 15.6h-15.6zM1444.9 665.0l7.8 15.6h-15.6zM1448.7 669.3l7.8 15.6h-15.6zM1459.9 668.7l7.8 15.6h-15.6z" fill="#ff0000"/>
<path d="M91 80V714.5M90.2 714.5H1464M91.0 714V722.5M203.8 714V722.5M316.6 714V722.5M429.5 714V722.5M542.3 714V722.5M655.1 714V722.5M767.9 714V722.5M880.8 714V722.5M993.6 714V722.5M1106.4 714V722.5M1219.2 714V722.5M1332.1 714V722.5M1444.9 714V722.5M83 714.5H91M83 644.0H91M83 573.5H91M83 503.0H91M83 432.5H91M83 362.0H91M83 291.5H91M83 221.0H91M83 150.5H91M83 80.0H91" stroke="#000" stroke-width="1.6" fill="none"/>
<g class="a" font-size="24" text-anchor="middle"><text x="91.0" y="752.8">1</text><text x="203.8" y="752.8">31</text><text x="316.6" y="752.8">61</text><text x="429.5" y="752.8">91</text><text x="542.3" y="752.8">121</text><text x="655.1" y="752.8">151</text><text x="767.9" y="752.8">181</text><text x="880.8" y="752.8">211</text><text x="993.6" y="752.8">241</text><text x="1106.4" y="752.8">271</text><text x="1219.2" y="752.8">301</text><text x="1332.1" y="752.8">331</text><text x="1444.9" y="752.8">361</text></g>
<g class="a" font-size="24" text-anchor="end"><text x="69.6" y="722.3">0</text><text x="69.6" y="651.8">1</text><text x="69.6" y="581.3">2</text><text x="69.6" y="510.8">3</text><text x="69.6" y="440.3">4</text><text x="69.6" y="369.8">5</text><text x="69.6" y="299.3">6</text><text x="69.6" y="228.8">7</text><text x="69.6" y="158.3">8</text><text x="69.6" y="87.8">9</text></g>
<text class="a" x="809.6" y="808.8" font-size="28.6" text-anchor="middle">Deň</text>
<text class="a" transform="translate(38.2 445.2) rotate(-90)" font-size="29.5" text-anchor="middle" textLength="47.5" lengthAdjust="spacingAndGlyphs">UVI</text>
<g class="c" font-size="29.4" text-anchor="end">
<text x="1446" y="155.5" textLength="218.9" lengthAdjust="spacingAndGlyphs">8-10 veľmi vysoký</text>
<text x="1443.5" y="257.5" textLength="128.8" lengthAdjust="spacingAndGlyphs">6-7 vysoký</text>
<text x="1434.5" y="404.5" textLength="136.9" lengthAdjust="spacingAndGlyphs">3-5 stredný</text>
<text x="1440" y="619" textLength="108.1" lengthAdjust="spacingAndGlyphs">0-2 nízky</text>
</g>
<g class="a" font-size="29.2">
<text x="239" y="885" textLength="152" lengthAdjust="spacingAndGlyphs">1999 - 2021</text>
<text x="504.8" y="885">MEDIAN</text>
<text x="730.4" y="885">P25</text>
<text x="894.7" y="885">P10</text>
<text x="1058.3" y="885">P75</text>
<text x="1222.9" y="885">P90</text>
<text x="1386.8" y="885">2022</text>
</g>
<path d="M202.7 873.9l4.4 4.4m0-4.4l-4.4 4.4" stroke="#3c69a5" stroke-width="1.8"/>
<g stroke="#000" stroke-width="5" stroke-linecap="round" fill="none">
<path d="M447 876H500"/>
<path d="M672.9 876H723.4" stroke-dasharray="10.5 9.5"/>
<path d="M837 876H871"/>
<path d="M1000.5 876H1051" stroke-dasharray="10.5 9.5"/>
<path d="M1165 876H1200"/>
</g>
<path d="M1355.2 868.5l8 15.2h-16z" fill="#ff0000"/>
</svg>
</body></html>
